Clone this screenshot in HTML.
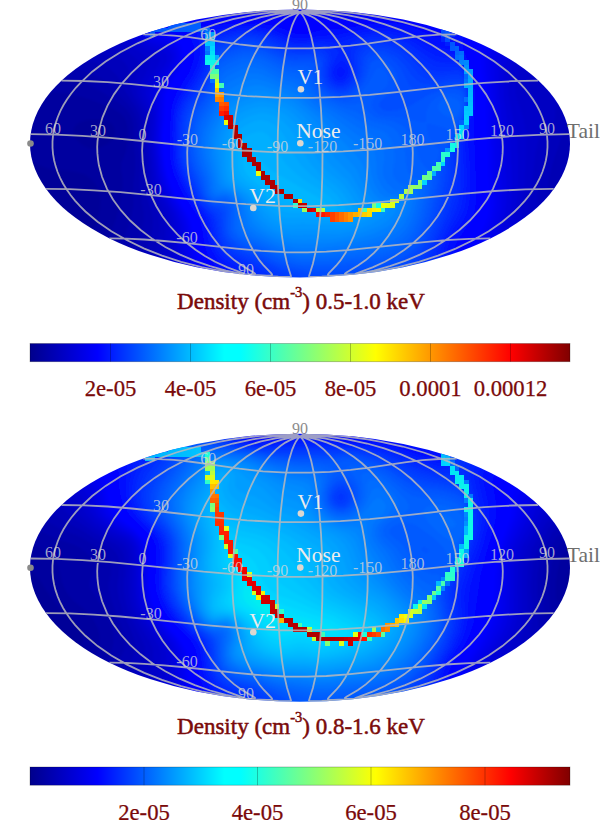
<!DOCTYPE html><html><head><meta charset="utf-8"><style>html,body{margin:0;padding:0;background:#fff}body{width:600px;height:820px;overflow:hidden}svg{display:block}</style></head><body>
<svg width="600" height="820" viewBox="0 0 600 820" font-family="'Liberation Serif', serif">
<defs><filter id="blur" x="-5%" y="-5%" width="110%" height="110%"><feGaussianBlur stdDeviation="1.2"/></filter><linearGradient id="jetg" x1="0" x2="1" y1="0" y2="0"><stop offset="0.0000" stop-color="#00008c"/><stop offset="0.0500" stop-color="#0000ba"/><stop offset="0.1000" stop-color="#0000e8"/><stop offset="0.1250" stop-color="#0000ff"/><stop offset="0.1500" stop-color="#001bff"/><stop offset="0.2000" stop-color="#0051ff"/><stop offset="0.2500" stop-color="#0088ff"/><stop offset="0.3000" stop-color="#00beff"/><stop offset="0.3500" stop-color="#00f4ff"/><stop offset="0.3600" stop-color="#00ffff"/><stop offset="0.3900" stop-color="#00ffff"/><stop offset="0.4000" stop-color="#0afff5"/><stop offset="0.4500" stop-color="#3dffc2"/><stop offset="0.5000" stop-color="#70ff8f"/><stop offset="0.5500" stop-color="#a3ff5c"/><stop offset="0.6000" stop-color="#d6ff29"/><stop offset="0.6400" stop-color="#ffff00"/><stop offset="0.6500" stop-color="#fff500"/><stop offset="0.7000" stop-color="#ffc200"/><stop offset="0.7500" stop-color="#ff8f00"/><stop offset="0.8000" stop-color="#ff5c00"/><stop offset="0.8500" stop-color="#ff2900"/><stop offset="0.8900" stop-color="#ff0000"/><stop offset="0.9000" stop-color="#f30000"/><stop offset="0.9500" stop-color="#b90000"/><stop offset="1.0000" stop-color="#800000"/></linearGradient></defs>
<g transform="translate(0,0)">
<text x="300" y="10" font-size="16" fill="#8c8c8c" text-anchor="middle">90</text>
<clipPath id="clip1"><ellipse cx="300.0" cy="143.4" rx="270.0" ry="134.0"/></clipPath>
<g clip-path="url(#clip1)">
<g filter="url(#blur)">
<rect x="0" y="0" width="600" height="290" fill="#000083"/>
<path fill="#00008a" d="M0 0 0 289.5 599.5 289.5 599.5 0Z"/>
<path fill="#000091" d="M0 0 0 289.5 599.5 289.5 599.5 0Z"/>
<path fill="#000098" d="M0 0 0 289.5 599.5 289.5 599.5 0Z"/>
<path fill="#00009f" d="M0 0 0 165.5 22.5 164 23 163.5 35 163.5 45.5 168 51 169.5 70.5 171 82 173.5 85.5 175 90.5 178.5 95 183.5 99 191 100.5 199.5 100 208.5 97 223.5 93.5 228.5 84 233.5 4.5 266.5 0 267 0 289.5 599.5 289.5 599.5 0ZM73.5 130 75 126.5 78 123.5 81.5 121.5 89 119.5 101 119.5 105.5 120.5 110.5 123 114 127 115 132.5 113 138.5 107.5 144 98.5 148 90.5 148.5 83 145.5 76 139 73.5 133.5Z"/>
<path fill="#0000a6" d="M0 0 0 83 8 83.5 47.5 92 68 93.5 90 99.5 110.5 107.5 119 112.5 124 117.5 126 121.5 127.5 128 127.5 140 126.5 148 125 154 121 163.5 121 169 122.5 179 122.5 188 121.5 197.5 116 218 112 230 110 234 105 238.5 14 283 10 285.5 8 287.5 7.5 289.5 599.5 289.5 599.5 0Z"/>
<path fill="#0000ad" d="M0 0 0 60.5 3 60.5 54.5 75 73 79.5 88.5 85 101 91.5 118 102.5 123 106.5 127 110.5 130.5 115.5 132.5 121 133.5 126.5 134 150 135 156 135 169 133.5 183 133.5 205 131 219 123.5 238 118 244 47 283.5 42.5 287.5 42 289.5 599.5 289.5 599.5 0Z"/>
<path fill="#0000b4" d="M0 0 0 43.5 8 45 84 70.5 99 77 107 82.5 126 101.5 133 110.5 137 120 138 127 138.5 146 140.5 159.5 140 186 141.5 199.5 144 213.5 144 220.5 141.5 230.5 135.5 244 130.5 249.5 76.5 283.5 73.5 286 72 289.5 599.5 289.5 599.5 0Z"/>
<path fill="#0000bb" d="M0 0 0 27 2.5 27 10.5 29.5 83.5 58.5 104 65.5 110 68.5 117.5 76 125.5 92 136 107.5 139 113.5 141.5 124.5 142 145 144.5 165.5 144.5 183.5 146.5 195.5 153 217.5 152.5 230.5 147.5 247.5 145.5 251 137.5 258 102.5 282.5 98.5 286.5 97.5 289.5 599.5 289.5 599.5 204.5 593 204 554.5 196 550.5 194.5 548.5 192.5 547.5 189.5 549 178 553 162.5 560.5 139.5 565 130.5 570 127.5 599.5 126 599.5 0Z"/>
<path fill="#0000c2" d="M0 0 0 8.5 4.5 9 99 52 118 58 122.5 60.5 126 64 127.5 67 128.5 70.5 129 81 130.5 88.5 133 95 141.5 110.5 144 118.5 145 144.5 147.5 164.5 148 181.5 150.5 194 159.5 217.5 160 230.5 156.5 249 154 254.5 144.5 263 119.5 282 115.5 286 114.5 289.5 599.5 289.5 599.5 221 592.5 220 546.5 208 540 205.5 538 203.5 537 201 537.5 193.5 543.5 162 547.5 146.5 553.5 127.5 555 116.5 555 110 556.5 105 559 102.5 565 101 594 96.5 599.5 96.5 599.5 0Z"/>
<path fill="#0000c9" d="M27.5 0 28.5 2.5 30 4 42 11 112.5 47 130 53.5 136.5 59 138.5 62.5 139 68 136 80.5 136 88.5 138 96 144.5 109 146.5 115 147.5 122 147.5 142.5 150 163 151 180.5 155 196 164 215.5 165.5 222 165.5 233.5 163 252 160.5 257.5 155.5 262.5 131 282.5 127.5 286.5 127 289.5 599.5 289.5 599.5 233.5 591 232 534 214.5 532 213.5 528.5 209.5 528.5 202.5 531.5 187.5 535.5 152 541.5 125 541.5 115.5 538.5 105 536 100 531 93 528 85.5 528.5 78 531 75 535 73 587.5 57 599.5 54.5 599.5 0Z"/>
<path fill="#0000cf" d="M50.5 0 51 2 54 5 61 9.5 118 41.5 132 47.5 141 52.5 148.5 59 149.5 61.5 149.5 64.5 148.5 67.5 142 81 141 85.5 141 91 142.5 97 147.5 108 149.5 115 150 144.5 154 181.5 158 195 168.5 216.5 170 223.5 170 239 169 245.5 169 251.5 167 258.5 160.5 265.5 138.5 285 137 287.5 137 289.5 599.5 289.5 599.5 244 594.5 243.5 529.5 221.5 523.5 218.5 521 215 521 209 523.5 195.5 525 180 525 172.5 525.5 172 526 131.5 523 116 517 99.5 515.5 93 515.5 83.5 517 74 519.5 69 522 67 526 65 583.5 45.5 585 44.5 596 41 599.5 41 599.5 0Z"/>
<path fill="#0000d6" d="M66 0 67.5 3.5 73.5 8 127 40 154.5 53 158.5 56 160 59 160 61 157.5 66.5 149 78.5 147 82.5 145.5 87.5 145.5 93 151 109 152.5 116.5 152 141 156 179 158 187 161 195 168.5 208.5 172.5 218 174 225.5 174 232.5 174.5 233 174 249.5 173.5 250 173.5 256.5 171 262 147 285 145.5 287.5 145.5 289.5 599.5 289.5 599.5 253.5 596.5 253.5 590 251.5 525.5 227.5 517 223.5 514.5 220 514.5 213.5 516.5 203.5 517.5 194 517.5 186 518 185.5 518 154 517.5 153.5 517.5 144.5 516.5 136 508.5 95.5 508.5 82 510 70.5 511.5 66 514 63 523 58.5 589 33.5 597 31 599.5 31 599.5 0Z"/>
<path fill="#0000dd" d="M78 0 78 1.5 79 3 83 6.5 131 37 145.5 44.5 162 50.5 167 55.5 167 60.5 165 65 155.5 77.5 151 85.5 150 88.5 150 96 154 109.5 155 116.5 154.5 136 154 136.5 154.5 148.5 158 177.5 162 191 174 213.5 177 223 178 230 178 259 176.5 262.5 174.5 265 156 283 153 287.5 153 289.5 599.5 289.5 599.5 262.5 596 262.5 517 231 510.5 227.5 508.5 224.5 508.5 218 510.5 209 511.5 200 511.5 191.5 512 191 511.5 163.5 511 163 511 151 510.5 150.5 510 140 507.5 126.5 506 111.5 503.5 96 504 70 505 64 506.5 61 509 58.5 514.5 55.5 592 24 597 22.5 599.5 22.5 599.5 0Z"/>
<path fill="#0000e4" d="M88 0 88.5 2.5 94 7.5 138 36.5 150 42.5 166 48 170.5 52 172 56 171.5 60.5 168.5 67 157.5 82 154 90.5 154 98 157 112 156 141.5 159 171 162 184.5 168.5 199 177 214 180.5 225 181.5 232.5 181.5 245.5 182 246 182.5 259.5 180.5 264.5 164 281.5 160.5 286 159.5 289.5 599.5 289.5 599.5 272 591.5 270 513 236 506 232.5 503 229.5 502.5 223 505 213.5 506.5 201.5 506.5 181 505.5 171 504.5 141.5 502.5 128.5 499 92.5 499.5 62 501 58 504.5 54.5 591 16.5 597 14.5 599.5 14.5 599.5 0Z"/>
<path fill="#0000eb" d="M96.5 0 97.5 3 102.5 7.5 135 30 149 38.5 165 44 169 46 173 49.5 175 53.5 175.5 57.5 174 63.5 171.5 68.5 161.5 82.5 158.5 88.5 157.5 92.5 157.5 101.5 159 109.5 158 145.5 160.5 168 163 180.5 166 189 171 199 179 212.5 183.5 225 184.5 231 185 246.5 186.5 261.5 183 268 168 284 166 287.5 166 289.5 599.5 289.5 599.5 281 596.5 281 590 278.5 506 239.5 499.5 236 497.5 234 496.5 232 496.5 227.5 499 220 501.5 207.5 502 188 500.5 173.5 500 147.5 499.5 147 499.5 140.5 498 129 497 108.5 496.5 108 495 82 494.5 81.5 494.5 59 496 55 499.5 51.5 594.5 7.5 599.5 6.5 599.5 0Z"/>
<path fill="#0000f2" d="M104.5 0 105 2.5 109.5 7 147.5 34 153 37 166.5 41.5 171.5 44 176.5 49 178 52.5 178.5 58 177 64 174 70 165 83 162 89 160.5 94.5 161 121.5 160 128.5 160 149 163 172.5 166.5 185 172.5 197.5 181 211.5 185.5 222 187.5 232 188.5 249 190 256 190.5 262.5 189 266.5 186.5 270 173.5 284.5 172 287.5 172 289.5 586.5 289.5 586.5 288 581 283.5 495.5 241 490.5 236 490.5 231.5 495 219 497.5 206 497.5 186.5 496 175 495.5 146 495 145.5 495 138 493.5 123 493 103 490.5 79.5 489.5 59.5 490 55 491 52.5 493 50 496.5 47.5 583 5.5 586.5 3 588 0 355.5 0 355.5 3 354.5 6 351.5 9.5 348.5 11 341 11 335.5 9 332.5 5.5 332.5 0 267 0 267 5 264 8.5 260 10.5 253 12 247 11.5 242.5 9 240 5 239 0Z"/>
<path fill="#0000f9" d="M111.5 0 112.5 3 116.5 7 148 30.5 158 36 166 38.5 173.5 42 178.5 47 181 53 181 60 179.5 65 175 73.5 167.5 84.5 163.5 94 163 118.5 161.5 131.5 162 153 164 168.5 166 177.5 171.5 191.5 182 209 187.5 220 189.5 227 191.5 248 194 259 194 265.5 192.5 268.5 179.5 284 178 286.5 177.5 289.5 567.5 289.5 567 287.5 564.5 285 558 281 487.5 243.5 484 239.5 484 235.5 491.5 217 493.5 206.5 493.5 187 491.5 170.5 491.5 146 491 145.5 491 137 490 128 489.5 101 485.5 68 485 55 485.5 52 487 49 492.5 44.5 565.5 7.5 570.5 4.5 573 2 573.5 0 365 0 364.5 4.5 362.5 8.5 360 11.5 356 14 346.5 16 329.5 14.5 319.5 12 314 8.5 312.5 5 312.5 0 287.5 0 287.5 4.5 286.5 7.5 284.5 9.5 281.5 11 273 13 257 15 245.5 15 241 14 235 11.5 232 8.5 230 4.5 229.5 0Z"/>
<path fill="#0000ff" d="M118.5 0 118.5 2 123 7 153 30 161.5 34.5 167 36 175.5 40 181 45.5 183.5 51.5 184 57 182 65.5 178 73.5 170 85.5 167.5 90.5 165.5 97 164.5 120.5 163 135 163.5 152 165 164.5 167.5 176.5 171 186 175.5 195 187.5 214.5 191 222.5 193 232 195 251 198 261.5 198 266.5 196 270.5 185 284 183 289.5 549.5 289.5 549 287 545 283.5 480.5 246.5 477.5 243 477.5 238.5 485 224 488 215.5 490 203.5 490 191 488 174.5 488 154.5 487.5 154 487.5 140 486.5 130.5 486 98.5 481.5 68.5 480.5 52 482 47 488 42 552 8 557.5 4.5 560 2 560.5 0 373.5 0 371.5 7 366.5 13 362 15.5 350 18.5 334.5 18.5 334 18 318.5 17 310 15.5 302 12.5 297.5 12.5 292 14.5 281.5 16 270.5 16 261 17 239 16.5 227 14 222.5 11.5 218 5.5 217 3 217 0Z"/>
<path fill="#0000ff" d="M125 0 126 3.5 129 6.5 155.5 27.5 163.5 32 170 34 179.5 39.5 184 45 186 50 186.5 58 184.5 66 180.5 74 172 87 167.5 98.5 166.5 106 165.5 127.5 165 128 165 151 167 167 170.5 180 177 194 191 216.5 194 224 197.5 249 202 263 201.5 269 199.5 272.5 190.5 284 189 287 189 289.5 534 289.5 533.5 287 529 283 475 250 471 246 470.5 244 472.5 238 478 229.5 482.5 220.5 485 212.5 486.5 202 486.5 192 484.5 174 484.5 153.5 484 153 484 140 483 130 483 102.5 482 92.5 477 64 476 49.5 477 45.5 482 40.5 543.5 6 548 2 548.5 0 382.5 0 382.5 2 380.5 7 375 13.5 370.5 16 362.5 18.5 348 21 316 20.5 315.5 21 305 21 304.5 21.5 282 19 273 19 272.5 18.5 244 19 243.5 18.5 236.5 18.5 236 18 229 18 228.5 17.5 213 16.5 208.5 15.5 204 13 197.5 4.5 196.5 0Z"/>
<path fill="#0000ff" d="M133 0 133.5 2.5 137 6 158 23 164 27 172.5 31 180.5 36.5 184.5 40.5 188.5 48.5 189 58.5 187 66 183.5 73.5 174.5 87.5 170.5 96 169 101.5 167 128.5 166.5 129 166.5 150.5 169 169 173.5 183 180.5 196.5 192 214 195.5 221 197.5 228.5 200 247.5 202 255 206 264.5 205.5 271 196.5 283.5 195 286.5 194.5 289.5 521.5 289.5 520 286 516.5 283 470 253 465.5 249 464.5 246.5 466.5 240 474 229 479.5 218.5 482 210 483 202 483 190.5 482.5 190 481.5 169 481 168.5 481 147.5 480.5 147 480 127 479.5 126.5 479.5 97.5 477 80 472.5 59 471.5 46.5 473 42.5 476.5 39 530 7.5 536.5 2 537 0 395 0 394 4.5 391 9.5 386 14.5 380 17 354 22.5 345 23.5 334.5 23.5 334 24 319.5 24 312.5 25 304.5 27.5 297.5 27.5 283.5 22.5 267 20.5 220 20 219.5 20.5 207 20.5 206.5 21 180 21 176.5 20 173 18 160.5 5.5 158.5 2.5 158 0Z"/>
<path fill="#0004ff" d="M526 0 483.5 0 483 2 480 5 452.5 25 444 32.5 439 32.5 433 30.5 416 22.5 406 19.5 382 20 347.5 25.5 318 27.5 303 31.5 296 31 279.5 24.5 271.5 23 260 22.5 259.5 22 227 22 206.5 24 197 24 187.5 25.5 182 27.5 180.5 29 180.5 31 188.5 41 191 47 191.5 58.5 189 67.5 185 75.5 176.5 88.5 173 95.5 171 101.5 169.5 110.5 168.5 129 168 129.5 168 150.5 169.5 164 173.5 178.5 181 194 194 213.5 197.5 220 199.5 226.5 203 249 205 255 210.5 266 210 272.5 202.5 283.5 201 286.5 200.5 289.5 511 289.5 510 286.5 505 282 465.5 255.5 460.5 251 459.5 249 459.5 245.5 461 241.5 472 225.5 475.5 219 478 212 479.5 203 479.5 186.5 478.5 178.5 478 152.5 477.5 152 477.5 142 476.5 132.5 477 96 475 80.5 468.5 56.5 467 48.5 467 44 469 39.5 473 36 521 6.5 525.5 2.5Z"/>
<path fill="#000aff" d="M515.5 0 488 0 487.5 2.5 483 7 453 29 450.5 31.5 448 35.5 445.5 38 444 38.5 435 36.5 410.5 26.5 400.5 24 392.5 23 374 23.5 342.5 28.5 322 30 305 34 296.5 34 277 26.5 270.5 25 257 23.5 226.5 24 211 26 196.5 26.5 188.5 29 187 31 187 33 191.5 40 193.5 45 194.5 50.5 194 59 190 71 177 92 173 101.5 171 111 170.5 121 170 121.5 169.5 150.5 171 164 174.5 176.5 183.5 195 199 218 202 227.5 203 236.5 205.5 248.5 207.5 254 210 259 214.5 265.5 216 269.5 215.5 273 209.5 282.5 207 289.5 502 289.5 501 286 499 284 459.5 256 456 252.5 455 250.5 455 246 458 239.5 468.5 224.5 473 216 475.5 207.5 476 197 476.5 196.5 475.5 168 475 167.5 475 154 474.5 153.5 474.5 144.5 473.5 135.5 473.5 120.5 475.5 101.5 475 91.5 473.5 80.5 471.5 72.5 462.5 46.5 462.5 41 463.5 38.5 469.5 33 511.5 6 515 2.5Z"/>
<path fill="#0010ff" d="M505.5 0 491.5 0 491.5 2 490 5 487 8 457 30.5 453.5 34 452.5 36.5 452 41 450 43 448.5 43.5 443.5 43.5 436.5 41.5 418 33 407 29 396.5 26.5 386.5 25.5 368.5 26.5 337 32 317.5 33.5 304.5 36.5 294.5 36 280 30 272 27.5 255.5 25 231 25.5 208.5 28.5 199 28.5 194 30 192.5 31.5 192 33.5 196.5 44.5 197 47.5 196.5 59.5 193 70 189 77.5 177.5 95.5 174 104.5 172 115.5 171.5 130 171 130.5 171.5 157 173.5 168.5 177 178.5 187.5 198.5 197.5 212 202 219.5 204.5 229 206 240.5 208.5 249.5 213 258.5 219.5 266.5 222 271.5 221 276 215.5 285.5 215 289.5 494.5 289.5 494 287 491.5 284 458 259.5 452 254 451 252 451 247 455 238 466 222 469.5 215.5 472 207.5 473 200 473 178 472.5 177.5 472.5 164.5 472 164 472 153.5 471.5 153 470.5 130 474 105 473.5 88.5 472.5 81.5 469 69 466 61.5 456.5 44 456 40.5 459 35 461.5 32.5 499.5 7.5 505 2.5Z"/>
<path fill="#0016ff" d="M197 33 197 36.5 198.5 40 200 47.5 200 54 198.5 62 193 75 178 99 175.5 105.5 174 112 173 120.5 173 130.5 172.5 131 173 157.5 174 164 177 174 184.5 190 192 202.5 200.5 213 204 219 206 225.5 208 239 211 249 216.5 258.5 227 269 229 272 229.5 275 225 284.5 224 289.5 487.5 289.5 486.5 286 483.5 283 453 260 448 255 447 252.5 447.5 247.5 449.5 242 455 232 463.5 219.5 466.5 213.5 469 204.5 470 194.5 470 174.5 469.5 174 469.5 161.5 469 161 469 153 468 145 468 133 473 104 472.5 88.5 470.5 77.5 467 67.5 462.5 58.5 456 51 453 49.5 444.5 48.5 435 45.5 417.5 36.5 403 31 394.5 29 385 28 367.5 29 355 31 337.5 35 319 36 306.5 38.5 295.5 38.5 288.5 36.5 273 30 255 26.5 240 26.5 239.5 27 229.5 27.5 211.5 30.5 200 31Z"/>
<path fill="#001dff" d="M202 35 201.5 39 202.5 43 202.5 55.5 200 65.5 194.5 77 181 97.5 177.5 105 175.5 112 174.5 120 174.5 132 174 132.5 174 150.5 174.5 151 175 161.5 177 169.5 179.5 176 188 193 193.5 202 201.5 211.5 206 218.5 208 224.5 211 242 215.5 252.5 217.5 255.5 225 263 234.5 269.5 237.5 272.5 238.5 274.5 238.5 278.5 235.5 285.5 235 289.5 481 289.5 480.5 287 476.5 282.5 449.5 261.5 444.5 256.5 443.5 254 444 248.5 447.5 239.5 453 229.5 459 220.5 463 212.5 465 206.5 466.5 197 467 168.5 466.5 168 466.5 159 466 158.5 465 142 465.5 141.5 465.5 136 471.5 109 472 92.5 470.5 81.5 468 73 463.5 63.5 459 57.5 455.5 55 452.5 54 443.5 53 434.5 50 420.5 42 407 35.5 395.5 32 384.5 30.5 376 30.5 363.5 32 337.5 38.5 319.5 38.5 302 41 290.5 39.5 269 31 254 28 242 28 232.5 29 210.5 33 207 33 203 34ZM340 67 342.5 67.5 344.5 70 344.5 73.5 341.5 76.5 339 76.5 337 74.5 336.5 73 337 70Z"/>
<path fill="#0023ff" d="M206 38 205 47 205 54.5 202 67 196.5 78 183 98 177.5 110.5 176 120.5 176 135.5 175.5 136 175.5 149 176 149.5 176.5 161 180 173 189.5 192.5 195 201.5 204 212 208 218 210 224 211.5 234.5 213.5 242.5 217.5 251 220.5 255 226.5 260.5 233.5 265 241.5 269 245 271.5 247.5 274.5 248 279 245.5 286.5 245.5 289.5 474.5 289.5 473.5 286 468.5 281 446 263 441 258 440 255.5 440.5 250 445 238.5 451 227 455.5 220 460 210.5 462 203.5 463.5 193 464 164.5 463.5 164 462.5 143.5 464 135 469.5 115.5 471.5 98.5 471 98 470.5 86 468 76 463.5 66.5 458.5 60.5 454 58.5 445 58 435.5 55.5 425.5 50 415 43 405 38 394 34.5 383 33 370 33.5 361.5 35 351.5 38 340.5 42.5 332.5 42.5 322 41 302.5 43 294.5 42.5 285.5 40 278 36.5 265.5 32 252.5 29.5 239 30 223 32.5 209.5 35.5ZM340 61.5 343 61.5 344.5 62.5 346.5 65 348 69 348 72.5 346.5 76.5 344 79 341.5 80 337.5 79.5 334.5 76.5 333.5 74 333.5 71 335 66.5Z"/>
<path fill="#0029ff" d="M209 40 207.5 45 206 61.5 203 71 197 81.5 183 102 179 111.5 177.5 121.5 178 161 182 173.5 193 195.5 199.5 205 207 213 210 217.5 212 223.5 215 240 218.5 248 220.5 251 229 259 236 263 245.5 267 250.5 270 254.5 273.5 256 276 256 280.5 254.5 285 254 289.5 468 289.5 468 287.5 466 284.5 443.5 265.5 437.5 259.5 436.5 257.5 436.5 253 441 241 456 211 458.5 202.5 460.5 190 461 162.5 460 155.5 460 146.5 461.5 139 465.5 127.5 469.5 111.5 470.5 104 470.5 93.5 469.5 85 467.5 77.5 464 70 460 65 456 63 442.5 62.5 436 61 430 58 409 43.5 396 38 381 35.5 370.5 36 357 39.5 350.5 43 345 48 343.5 50.5 343.5 52.5 349 62 350.5 67 350.5 72.5 348.5 77.5 345 81 341.5 82.5 339 82.5 335.5 81 333 78.5 331.5 75.5 332 67 338.5 53.5 338.5 51.5 335 48 328.5 45 319.5 43.5 303 44.5 302.5 45 294 44.5 286 42.5 276 38 263.5 33.5 257.5 32 249 31 237.5 32 219.5 35.5 212.5 37.5Z"/>
<path fill="#002fff" d="M210.5 43 208.5 51.5 207.5 63 205.5 71 201 79.5 186.5 100 180.5 112.5 179 124 179 156 180 162.5 185 176 195 196 201 204.5 210.5 214.5 212.5 218 214 222.5 216.5 237.5 221 247.5 230 256.5 253 267.5 259 271.5 262.5 275 263.5 277 263.5 281.5 262 289.5 461.5 289.5 461.5 287.5 459.5 284.5 439 266.5 434 261.5 432.5 258.5 432.5 255.5 441 234.5 451.5 213 454.5 204 456.5 194.5 458.5 174 458 161 457.5 160.5 457.5 149 459.5 141 466.5 121 469 110 470 101 469.5 91 468 82.5 465 74.5 461 69 457.5 67 438.5 67 433.5 65.5 426 61 412 49.5 399.5 42.5 388 39 372 38.5 360.5 41.5 355.5 44.5 353 47 351 51 351 57.5 353 66.5 353 71 351.5 76.5 350 79 346 83 342.5 84.5 338 84.5 334.5 83 331 79.5 329.5 76 329.5 68.5 332 59.5 331.5 52.5 329 49.5 324 47 319.5 46 310.5 46 303 47 293 46.5 284 44 276.5 40.5 261.5 35 252 33 240.5 33.5 225 36.5 214.5 39.5Z"/>
<path fill="#0035ff" d="M214.5 42.5 212.5 44.5 210.5 49.5 208.5 67 207 73 202.5 81.5 186.5 104 182 114 181 120 181 131 180.5 131.5 180.5 153.5 181.5 161.5 183.5 168 197 196.5 201.5 203 213 214.5 214.5 217 216 221.5 218.5 237 223.5 247 229.5 253 235 256.5 248.5 262 266 272 270 276 271 278 270.5 289.5 454.5 289.5 454.5 287.5 453 285 431 264.5 428.5 260.5 428.5 257 447.5 214 450.5 205 453.5 191.5 455.5 174 455 160 454.5 159.5 455 151.5 459 138.5 466 120 469 105 469 93.5 467.5 84 466 79.5 462 73 459 71 456.5 70.5 441.5 72 432 70.5 426 67 410.5 53 401.5 47 393.5 43.5 388 42 381.5 41 374.5 41 364 43.5 361 45 357.5 48 355.5 51.5 354.5 55.5 355 72 353 78 351 81 346.5 85 342.5 86.5 338 86.5 332.5 84 328.5 79 327.5 76 327.5 68.5 329 62 329 57 327.5 53.5 324.5 50.5 319 48.5 296.5 49 290 48 283 46 268.5 39.5 259.5 36.5 252 35 244 35 237.5 36 222.5 39.5Z"/>
<path fill="#003bff" d="M215.5 45 213 48 211.5 52.5 209.5 70 208 76 203 85 189 104 185 111.5 183.5 116 182.5 124.5 182.5 156.5 184 164 186 169.5 199 197 202.5 202 215.5 214 218 220 219 230 220.5 236.5 223.5 243 226.5 247 234 253 256.5 263 275.5 274 279.5 278.5 280 280.5 279.5 289.5 447 289.5 446.5 287 444 283.5 425.5 265.5 424 263 423.5 260.5 424.5 257 432.5 242 443 217 449.5 194 452 178.5 452.5 153.5 458 138 462.5 128 466 117 468 107 468.5 97 467.5 88.5 465.5 81.5 463.5 78 459 74.5 451 74.5 443 76 433.5 76 430 75 423 71 407 55 399 49.5 387.5 45 382 44 374 44 369 45 363.5 47.5 359 52.5 357.5 57.5 357 73 353 81.5 348.5 86 346 87.5 343 88.5 338 88.5 332 86 327 80.5 325.5 75.5 326.5 59.5 324.5 54.5 320 51.5 316 50.5 294.5 51 288.5 50 279.5 47 265 40.5 257 38 251 37 245.5 37 236 38.5 222.5 42Z"/>
<path fill="#0041ff" d="M216.5 47.5 214 50.5 212.5 55 210.5 73 209 79 204.5 87 189.5 107.5 186 115 184.5 123.5 184 152 185 160.5 187 167 199.5 195 203 200.5 208.5 206 215.5 210.5 219.5 216 221.5 232.5 223 237 227 244 234.5 250.5 241.5 254 251 257.5 287 276 291 280.5 291.5 289.5 437.5 289.5 437 286.5 434 282.5 419.5 267.5 418 265 418 261.5 419 259 426.5 248 430 241 439 219 444.5 200 448.5 180 449.5 157.5 453 147 462.5 125.5 467 108.5 467.5 105 467 91 465.5 85 463 80.5 459 78 452 78 441 80 430 80 426.5 79 419 74.5 410 64 402 56 397 52.5 388 48.5 380.5 47 375 47 370 48 366 50 362.5 53.5 360.5 58 359 74 357 79 354 83.5 350.5 87 345.5 90 338 90.5 331.5 88 326 82.5 323.5 75.5 324 60 323 57.5 319 54 315.5 53 297.5 53.5 289 52.5 281 50 262.5 42 252.5 39.5 243.5 39.5 237.5 40.5 224.5 44Z"/>
<path fill="#0047ff" d="M217.5 50 215 53 213.5 57 211.5 75.5 209.5 83 205 90.5 192 108 189 113.5 187.5 118 186 132.5 186 153 187 160 189 166.5 202 196.5 204 199.5 209 204.5 218.5 209.5 220.5 211.5 222 214.5 223.5 232 225 236.5 228 241.5 233 246.5 239.5 250.5 253.5 256 279.5 269 302.5 277 306.5 281 307.5 285.5 307.5 289.5 425 289.5 425 287.5 423.5 284.5 411 270 410 268 410 264.5 412.5 260.5 420 252.5 425.5 244 434 224 438 212 444.5 183 445.5 176 446 163 447 158.5 450.5 149 461.5 125.5 466 110 466.5 94.5 465.5 89.5 463 84 458 81.5 447.5 82 433.5 84.5 428.5 84.5 421.5 83 417 80.5 411.5 75 404 64 396.5 57 385.5 51.5 380.5 50.5 375 50.5 369.5 52 365 56 363 61 362 71.5 360.5 76.5 358 81.5 354.5 86 347.5 91.5 344.5 92.5 337.5 92.5 329.5 89 326 86 323.5 82.5 321.5 76 321.5 66.5 322 66 321.5 61.5 320 58.5 317.5 56.5 314.5 55.5 289 55 282 53 262.5 44.5 253 42 243 42 237.5 43 224 47Z"/>
<path fill="#004eff" d="M219 52.5 215.5 56.5 214.5 59.5 213 69 212.5 78.5 210.5 86 207 92 194 109.5 190 118 188 133.5 188 152.5 189 159.5 191 166 197 179 200.5 189.5 204 197 209.5 203 214 205.5 221 207.5 224.5 212 225 228.5 226.5 234.5 230 240.5 238 247 258 255.5 270 262 283 267.5 295 271 323.5 276.5 332 277.5 342 280 345.5 283 347 289.5 403 289.5 402.5 286 395.5 276 394 273 394 271.5 395 269.5 399.5 265 409.5 258 418 250 423.5 241.5 430.5 225 434 214.5 440.5 185.5 443.5 162 447.5 151.5 461 124 465 110.5 466 100.5 465 93 463 88 459.5 85.5 451.5 85 428 89.5 420.5 90 415 89 412 87.5 409 84.5 401.5 69.5 395 61.5 391 58.5 386 56 380.5 54.5 375 54.5 370 56.5 367 60 363.5 76 357.5 86 352 91.5 349 93.5 344 95 337 94.5 329.5 91.5 325.5 88.5 322.5 85 319.5 77.5 319 63.5 318 61.5 314 58.5 311.5 58 295.5 58.5 288 57.5 280 55 263.5 47.5 251.5 44.5 245 44.5 236.5 46 225.5 49.5Z"/>
<path fill="#0054ff" d="M220 55.5 217 58.5 215.5 62.5 214 72 213.5 81 211.5 89 209 93.5 196.5 110.5 192 120.5 190 136 190 151 191.5 160.5 194.5 169 199.5 180 205 196 208 200 210.5 202 215 204 223 205 226 207.5 227.5 211.5 227 227 228.5 233.5 231 238 238.5 244.5 255 251.5 276 262 290 267 298.5 269 310 270.5 334 271 334.5 270.5 342 270.5 356.5 269 363.5 269 378.5 267 394.5 262 403.5 257.5 410 253 417 246 420 241.5 424.5 232 430 217 437 185 439.5 165.5 445 151.5 460 123 462.5 116 464.5 107 464.5 98 462.5 92 460.5 90 457.5 89 446.5 89 440 90.5 427 95.5 412 104.5 403.5 108.5 395.5 110.5 387 111 382.5 109.5 380 107 379.5 105.5 380 102.5 384.5 97.5 392.5 92.5 395.5 89.5 397.5 85.5 398 80.5 396.5 74 393 67.5 389 63.5 382 60 376 59.5 371.5 62 370 64.5 368 72.5 365 80 360.5 86.5 354 93.5 347.5 97 341 97.5 334.5 96 328 93 321.5 87.5 317.5 79.5 315.5 65 314 63 312 62 306.5 61 297.5 61.5 288 60.5 279 57.5 264 50.5 252.5 47.5 244 47.5 238.5 48.5 227.5 52Z"/>
<path fill="#005aff" d="M220 59.5 218.5 61 216 67.5 214.5 84.5 213 91 209 98 199.5 111 194.5 121.5 192.5 132.5 192.5 140.5 192 141 192.5 153.5 195.5 165.5 201.5 179.5 204.5 191 207.5 197 211 200.5 214 202 224.5 202.5 228.5 206 230 210 229.5 228.5 231 233.5 232.5 236 237 240.5 246 245.5 254 248.5 281.5 261.5 294 265.5 308.5 267.5 337.5 267 348.5 265.5 365 264.5 380.5 262 392.5 258.5 402 254 408 250 414.5 243.5 420 234.5 427 216 433 187 435 168.5 439 154.5 439 149.5 433 143 429.5 136.5 427 128.5 427 125 428.5 124 443.5 128 449 130.5 452.5 129.5 457.5 123.5 462 112.5 463 107 463 100.5 461.5 96.5 459.5 94.5 455.5 93 449.5 92.5 442 94 435.5 97.5 430.5 102 428.5 105 426 111.5 425.5 120.5 424.5 122 422.5 122 406.5 118 397.5 116.5 384.5 115.5 380.5 114.5 377.5 113 374 109.5 372.5 106 373 101 374 99 386.5 87 388 84 389 79.5 388.5 76 387 72.5 385 70 380 67.5 377 68 374.5 70.5 368 83 361.5 91 355 97.5 349.5 100 343 100.5 331 97 322.5 92 319.5 89 316 83 312 68.5 308 65.5 300.5 64.5 292 64.5 286.5 63.5 279.5 61 264 53.5 250.5 50.5 242.5 51 236 52.5 226.5 56Z"/>
<path fill="#0060ff" d="M442 100 439.5 103 438.5 105.5 438.5 108.5 439.5 111 443 114.5 446 116 451 117.5 456 117 457.5 115.5 460 109.5 460 103.5 459 101.5 457 99.5 451.5 97.5 446 98ZM219 65.5 217 71.5 215.5 88 213.5 95.5 200.5 115 196.5 124.5 194.5 137.5 194.5 149.5 197 162.5 203 177.5 206 190 208 195 211.5 199 214.5 200.5 225.5 200.5 227.5 201.5 231.5 206.5 232.5 210 232 228.5 234 233.5 238 238 246.5 243 256.5 247 279.5 258 292.5 262.5 304 264.5 332.5 264 352 261.5 362 261 378.5 258.5 392 254.5 399.5 251 405 247.5 411 242 417.5 232 423.5 216.5 429 189.5 430 177.5 427.5 169.5 421.5 162.5 419 157.5 414.5 143 410.5 134.5 404 127 399.5 124 394 121.5 378.5 118.5 373 116 366.5 110 363 105 360 103.5 352 104.5 344 104 337 102 324.5 96.5 321.5 94.5 316.5 89.5 313 83.5 309 73.5 306 70.5 303.5 69.5 285.5 67 279 64.5 264.5 57 258 55 251 54 243 54.5 232.5 57.5 222 62.5Z"/>
<path fill="#0066ff" d="M221.5 68 219 72 218 76 216.5 92 214.5 99 204.5 114 201 120.5 199 126 197 137.5 197 150 199 160.5 206 180 209 193.5 211 196.5 215.5 199 225.5 198.5 228 199.5 231.5 202.5 234 207 235 211 235 220 234.5 220.5 235 229 237.5 233.5 240 236 251.5 242.5 257 244.5 279 255 290 259 301.5 261.5 329 261 364 257 378.5 254.5 390 251 398.5 247 403 244 408.5 239 414 231 420 216.5 424 198.5 425.5 188.5 425.5 183.5 424.5 181 423 179.5 413.5 178 408.5 173 406.5 167.5 405 152 402.5 141.5 398 133 393.5 128.5 388.5 125.5 372.5 121.5 367.5 119 357 112 342.5 107.5 322.5 98.5 316 93.5 311.5 87.5 306.5 78.5 302.5 75 296.5 73 290.5 72.5 283 70.5 265 61 259 59 253 58 243.5 58.5 239 59.5 230 63Z"/>
<path fill="#006cff" d="M221.5 74.5 219.5 79.5 218 93.5 216 101.5 206.5 116.5 203 123.5 201 129.5 199.5 139 200 153 203.5 166.5 208 179 209.5 189 211.5 194 215 197 224 196.5 228 197.5 233.5 202 236.5 207.5 237.5 212 238 227.5 240 231.5 242.5 234 249.5 238.5 277.5 251.5 291.5 256.5 300.5 258.5 325.5 258 362 253.5 376 251 389 247 397 243 402 239.5 407 234.5 410.5 229.5 414.5 221.5 417 214.5 420.5 198.5 421 187 420 185.5 417.5 184.5 409.5 185.5 402.5 185 399 183 394 177 393 174.5 393 168.5 394.5 161.5 394 149 392 141.5 390 137.5 385.5 132.5 382 130.5 368.5 126 352 116.5 319 100 310.5 92 304.5 83.5 301 80.5 295.5 78 282.5 75 261.5 64 254.5 62.5 247 62.5 240 64 227 70Z"/>
<path fill="#0072ff" d="M222.5 80.5 220.5 86 218 103 215.5 108.5 209.5 117.5 204 130 202.5 137.5 202.5 151 204 159 209.5 176 211.5 185.5 211.5 188.5 213 192.5 216 195 225.5 195 228.5 196 232 198 235.5 201.5 239.5 210 240.5 222.5 241.5 226.5 243.5 230 246 232.5 252 236.5 281 250 298 255 314 255.5 339.5 253 366 249 377 246.5 383.5 244.5 393.5 240 400 235.5 404 231.5 408 226 411.5 219 414 212 417 197.5 417 191.5 414.5 189 409.5 189 403 190.5 396.5 190.5 393 189 387.5 183.5 384 177.5 383 174 383 167 384.5 159 383.5 148.5 382 144.5 378 139 371.5 134.5 356.5 126.5 334.5 112 315.5 101.5 309 95.5 301.5 87 298 84.5 292 82 281 79 263 69.5 254.5 67.5 249 67.5 242 69 228.5 75.5Z"/>
<path fill="#0078ff" d="M224 86.5 222 91 220.5 101.5 218.5 108.5 212.5 118.5 208.5 126.5 206.5 132.5 205 142 206 155 212 176.5 213.5 186.5 215 191 218 193 223 193 228 194 232 196 237 200.5 241.5 208.5 244.5 224 248 229.5 256.5 235.5 271.5 243 285.5 248.5 301 252 314 252 346 248.5 374 243 383 240 390.5 236.5 396.5 232.5 402.5 226.5 405.5 222 410.5 210.5 413 198 412.5 194.5 411 193 409 192.5 396.5 194.5 392 194.5 388 193 383.5 188.5 380.5 184 377.5 177 376.5 172 376 158.5 374 151 371.5 146.5 365 140 352.5 131.5 331 115 314.5 105 303.5 94.5 296.5 89 288.5 85.5 280 83 264.5 75.5 257.5 73.5 248.5 73.5 244.5 74.5 230.5 81.5 226.5 84Z"/>
<path fill="#007eff" d="M225 93 223 98 222 105 220 112 212.5 125.5 209 136 208 146 210 160 217 188.5 219.5 190.5 225.5 191.5 232.5 194.5 239 200 244 208.5 248.5 223.5 250.5 226.5 255.5 231 261 234.5 274 241 286.5 245.5 295 247.5 304 248.5 317.5 248 345 245 370.5 239.5 382 235.5 390.5 231 394.5 228 401 221 404 216 407 208 408.5 200.5 407.5 197 405 196 402.5 196 394.5 197.5 386.5 197.5 382.5 195.5 378.5 191 374 183 371.5 175 370 165 368 158.5 365.5 153.5 362.5 149.5 356 143 345 134 332 122 324.5 116 312.5 108 298.5 95.5 288.5 90 280.5 87.5 268 82 259 79.5 251 79.5 244 81.5 228.5 90Z"/>
<path fill="#0085ff" d="M226.5 98.5 224 104.5 223.5 109 221.5 116 214.5 129.5 211.5 141 212 154.5 218 183 220.5 187.5 231.5 192 237.5 196 241.5 200 246.5 208 251.5 221 253.5 224 259.5 229.5 268.5 235 276 238.5 284.5 241.5 293.5 243.5 317 244 317.5 243.5 331 243 353.5 239.5 373 234 389 226 397.5 217.5 401.5 210.5 403 206 403 201 400.5 199.5 382.5 200.5 379 199 375 195 371.5 189.5 368 182 363.5 167 360.5 161 356 155 324 122 296.5 99 283.5 92.5 262 85.5 252.5 85.5 247 87 229.5 96Z"/>
<path fill="#008bff" d="M228 103.5 226 107.5 223.5 119 217.5 131.5 215 141.5 215 152 219.5 178.5 221 183 224 186.5 236.5 193 245 201 247.5 204.5 255 219.5 261.5 226.5 266.5 230 280 236.5 294 239.5 307 240 307.5 239.5 320 239.5 320.5 239 330.5 239 340.5 238 360 233.5 375 228 381 225 387.5 220.5 393 215 395 212 397 207.5 397 204.5 395 203 387.5 203 387 203.5 377.5 203 374.5 201.5 371 198 366.5 191 356.5 169.5 354 166 339 149.5 323 129 309 115 295 103 289 99.5 272.5 93 264.5 91 254.5 91 246.5 93.5 230.5 101.5Z"/>
<path fill="#0091ff" d="M229 109.5 227.5 113 224.5 125.5 221.5 131.5 219.5 137.5 218.5 143 218.5 153 221 172.5 222.5 179 224.5 183 227 185.5 239 192.5 248 201 259 218.5 264 223.5 269.5 227.5 275 230.5 283 233.5 292.5 235 339 234 354.5 230.5 370.5 224.5 381 218.5 388 211.5 388.5 210.5 388 207.5 374.5 206 370 204 367 201 351 174.5 335 158 321.5 137.5 310.5 123.5 301 113.5 293 107 286 103 273 98 267 96.5 259 96 253 97 245 100 232.5 106Z"/>
<path fill="#0097ff" d="M231 114 229.5 117.5 228 125.5 224 136 222 147 223.5 169 225.5 178.5 227.5 182 230.5 185 244.5 194 250.5 200 263.5 217.5 269.5 222.5 281 228.5 289 230 338 229.5 344 228.5 356 225 368.5 219.5 375.5 214.5 376.5 212.5 376 211.5 373.5 210 368.5 208.5 363 204 353 188 347.5 180.5 330 164.5 324.5 157 313 137 307.5 129 301.5 121.5 291.5 112 286 108.5 274.5 103.5 265.5 101.5 258.5 101.5 246.5 105 235 110.5Z"/>
<path fill="#009dff" d="M233.5 118.5 232 121.5 226 146.5 226.5 167 228 176 230.5 181 233.5 184 244.5 191 251 196.5 261 208.5 271 218 279 222.5 287 224.5 294 224.5 301.5 223.5 319.5 224 320 224.5 337.5 224.5 345.5 223 353 220.5 360 217 362.5 214.5 362.5 212 357.5 205.5 346.5 188.5 340 181.5 329.5 173.5 322 166 316.5 158.5 305 137.5 299.5 129 293.5 121.5 286 115 279 111 272.5 108.5 265 107 259.5 107 252.5 108.5 246 111 237 115.5Z"/>
<path fill="#00a3ff" d="M236 124 234 129 230 148 230 167.5 231.5 175.5 234 180 237.5 183.5 252 193.5 269 210.5 277.5 216 286.5 218.5 311 218 323 219.5 336.5 219.5 348.5 216.5 352.5 213.5 353 209 350.5 204 342.5 192.5 334.5 184.5 321 174.5 311 164 303 151.5 294 134 289 127 283 121 278 117.5 271.5 114.5 265 113 259.5 113 249 116 238.5 121.5Z"/>
<path fill="#00a9ff" d="M239 130.5 237 135.5 234 150.5 233.5 162.5 234 163 234 169 235.5 175 237.5 178.5 241 182 254 191 268.5 204 278 210 288.5 212.5 304.5 212.5 317.5 215 331.5 216 338.5 215 342.5 213.5 345 211.5 345.5 210.5 345 206.5 337.5 195.5 330 188.5 311.5 175.5 301 165 293 153 285 136.5 279.5 129 275 125 267.5 121 260 120 255 121 250 123 242 127.5Z"/>
<path fill="#00afff" d="M243.5 138.5 241.5 142 239 150 238 156.5 238 166 239 171 241 175.5 246 181 258 189.5 268.5 198 274 201.5 282 205 299 207.5 312.5 211 321.5 212.5 331.5 212.5 335 211.5 337 210 337.5 207 336 204 329.5 196.5 319 189 304.5 180 296 173.5 286 164 279 154 272 139.5 267.5 134.5 263 132 258 131.5 251.5 133.5 246.5 136Z"/>
<path fill="#00b6ff" d="M245 154 243.5 157.5 243 164 244 169.5 246.5 174.5 254.5 182 268 191.5 280.5 198 309 207 316 208.5 325 208.5 327 207 326.5 204.5 322.5 200.5 316 196 271 170 254 154 251 152.5 247 152.5Z"/>
<path fill="#00bcff" d="M252 167 253 171.5 257.5 176.5 264.5 181 268 181.5 267 179 257.5 169 253.5 166.5Z"/>
</g>
<g shape-rendering="crispEdges">
<rect x="145.38" y="32.38" width="4.67" height="4.67" fill="#001cff"/>
<rect x="150" y="27.76" width="4.67" height="4.67" fill="#0058ff"/>
<rect x="150" y="32.38" width="4.67" height="4.67" fill="#0058ff"/>
<rect x="154.62" y="27.76" width="4.67" height="4.67" fill="#0059ff"/>
<rect x="159.23" y="27.76" width="4.67" height="4.67" fill="#0059ff"/>
<rect x="163.85" y="27.76" width="4.67" height="4.67" fill="#005aff"/>
<rect x="168.46" y="23.15" width="4.67" height="4.67" fill="#005aff"/>
<rect x="168.46" y="27.76" width="4.67" height="4.67" fill="#005aff"/>
<rect x="173.08" y="23.15" width="4.67" height="4.67" fill="#005bff"/>
<rect x="173.08" y="27.76" width="4.67" height="4.67" fill="#005bff"/>
<rect x="177.69" y="23.15" width="4.67" height="4.67" fill="#005bff"/>
<rect x="177.69" y="27.76" width="4.67" height="4.67" fill="#005bff"/>
<rect x="182.31" y="23.15" width="4.67" height="4.67" fill="#005cff"/>
<rect x="182.31" y="27.76" width="4.67" height="4.67" fill="#005cff"/>
<rect x="186.92" y="23.15" width="4.67" height="4.67" fill="#005dff"/>
<rect x="186.92" y="27.76" width="4.67" height="4.67" fill="#005dff"/>
<rect x="191.54" y="23.15" width="4.67" height="4.67" fill="#005eff"/>
<rect x="191.54" y="27.76" width="4.67" height="4.67" fill="#005eff"/>
<rect x="196.15" y="23.15" width="4.67" height="4.67" fill="#005eff"/>
<rect x="196.15" y="27.76" width="4.67" height="4.67" fill="#005fff"/>
<rect x="200.77" y="27.76" width="4.67" height="4.67" fill="#0060ff"/>
<rect x="200.77" y="32.38" width="4.67" height="4.67" fill="#0035ff"/>
<rect x="205.38" y="27.76" width="4.67" height="4.67" fill="#006dff"/>
<rect x="205.38" y="32.38" width="4.67" height="4.67" fill="#008fff"/>
<rect x="205.38" y="36.99" width="4.67" height="4.67" fill="#00b2ff"/>
<rect x="205.38" y="41.61" width="4.67" height="4.67" fill="#00c6ff"/>
<rect x="205.38" y="46.22" width="4.67" height="4.67" fill="#007fff"/>
<rect x="205.38" y="50.84" width="4.67" height="4.67" fill="#006fff"/>
<rect x="205.38" y="55.45" width="4.67" height="4.67" fill="#05ebf2"/>
<rect x="205.38" y="60.07" width="4.67" height="4.67" fill="#0df6ea"/>
<rect x="210" y="32.38" width="4.67" height="4.67" fill="#00a2ff"/>
<rect x="210" y="36.99" width="4.67" height="4.67" fill="#00b7ff"/>
<rect x="210" y="41.61" width="4.67" height="4.67" fill="#00c9ff"/>
<rect x="210" y="46.22" width="4.67" height="4.67" fill="#00d7ff"/>
<rect x="210" y="50.84" width="4.67" height="4.67" fill="#00e2f9"/>
<rect x="210" y="55.45" width="4.67" height="4.67" fill="#06edf1"/>
<rect x="210" y="60.07" width="4.67" height="4.67" fill="#0ef7e9"/>
<rect x="210" y="64.68" width="4.67" height="4.67" fill="#27ffd0"/>
<rect x="210" y="69.3" width="4.67" height="4.67" fill="#47ffb0"/>
<rect x="210" y="73.92" width="4.67" height="4.67" fill="#78ff7f"/>
<rect x="210" y="78.53" width="4.67" height="4.67" fill="#0072ff"/>
<rect x="214.62" y="55.45" width="4.67" height="4.67" fill="#00acff"/>
<rect x="214.62" y="60.07" width="4.67" height="4.67" fill="#0ff8e8"/>
<rect x="214.62" y="69.3" width="4.67" height="4.67" fill="#4cffab"/>
<rect x="214.62" y="73.92" width="4.67" height="4.67" fill="#82ff74"/>
<rect x="214.62" y="78.53" width="4.67" height="4.67" fill="#bbff3b"/>
<rect x="214.62" y="83.15" width="4.67" height="4.67" fill="#f0fd07"/>
<rect x="214.62" y="87.76" width="4.67" height="4.67" fill="#ffc500"/>
<rect x="214.62" y="92.38" width="4.67" height="4.67" fill="#ffa400"/>
<rect x="214.62" y="96.99" width="4.67" height="4.67" fill="#ff8400"/>
<rect x="219.23" y="83.15" width="4.67" height="4.67" fill="#43ffb4"/>
<rect x="219.23" y="92.38" width="4.67" height="4.67" fill="#ff9a00"/>
<rect x="219.23" y="96.99" width="4.67" height="4.67" fill="#ff7a00"/>
<rect x="219.23" y="101.61" width="4.67" height="4.67" fill="#ff5b00"/>
<rect x="219.23" y="106.22" width="4.67" height="4.67" fill="#ff3c00"/>
<rect x="219.23" y="110.84" width="4.67" height="4.67" fill="#ff1a00"/>
<rect x="223.85" y="101.61" width="4.67" height="4.67" fill="#ff5000"/>
<rect x="223.85" y="106.22" width="4.67" height="4.67" fill="#ff2f00"/>
<rect x="223.85" y="110.84" width="4.67" height="4.67" fill="#f60c00"/>
<rect x="223.85" y="115.45" width="4.67" height="4.67" fill="#d70000"/>
<rect x="223.85" y="120.07" width="4.67" height="4.67" fill="#eeff09"/>
<rect x="228.46" y="115.45" width="4.67" height="4.67" fill="#d00000"/>
<rect x="228.46" y="120.07" width="4.67" height="4.67" fill="#c10000"/>
<rect x="228.46" y="124.68" width="4.67" height="4.67" fill="#b20000"/>
<rect x="233.08" y="124.68" width="4.67" height="4.67" fill="#ae0000"/>
<rect x="233.08" y="129.3" width="4.67" height="4.67" fill="#ae0000"/>
<rect x="233.08" y="133.92" width="4.67" height="4.67" fill="#ae0000"/>
<rect x="237.69" y="133.92" width="4.67" height="4.67" fill="#ae0000"/>
<rect x="237.69" y="138.53" width="4.67" height="4.67" fill="#ae0000"/>
<rect x="237.69" y="143.15" width="4.67" height="4.67" fill="#ae0000"/>
<rect x="242.31" y="143.15" width="4.67" height="4.67" fill="#ae0000"/>
<rect x="242.31" y="147.76" width="4.67" height="4.67" fill="#ae0000"/>
<rect x="242.31" y="152.38" width="4.67" height="4.67" fill="#ae0000"/>
<rect x="246.92" y="147.76" width="4.67" height="4.67" fill="#ae0000"/>
<rect x="246.92" y="152.38" width="4.67" height="4.67" fill="#ae0000"/>
<rect x="246.92" y="156.99" width="4.67" height="4.67" fill="#ae0000"/>
<rect x="251.54" y="156.99" width="4.67" height="4.67" fill="#ae0000"/>
<rect x="251.54" y="161.61" width="4.67" height="4.67" fill="#ae0000"/>
<rect x="256.15" y="161.61" width="4.67" height="4.67" fill="#ae0000"/>
<rect x="256.15" y="166.22" width="4.67" height="4.67" fill="#ae0000"/>
<rect x="256.15" y="170.84" width="4.67" height="4.67" fill="#efff08"/>
<rect x="260.77" y="170.84" width="4.67" height="4.67" fill="#ae0000"/>
<rect x="260.77" y="175.45" width="4.67" height="4.67" fill="#ae0000"/>
<rect x="265.38" y="175.45" width="4.67" height="4.67" fill="#ae0000"/>
<rect x="265.38" y="180.07" width="4.67" height="4.67" fill="#ae0000"/>
<rect x="270" y="180.07" width="4.67" height="4.67" fill="#ae0000"/>
<rect x="270" y="184.68" width="4.67" height="4.67" fill="#ae0000"/>
<rect x="274.62" y="184.68" width="4.67" height="4.67" fill="#ae0000"/>
<rect x="274.62" y="189.3" width="4.67" height="4.67" fill="#ae0000"/>
<rect x="279.23" y="189.3" width="4.67" height="4.67" fill="#ae0000"/>
<rect x="283.85" y="193.92" width="4.67" height="4.67" fill="#ae0000"/>
<rect x="288.46" y="193.92" width="4.67" height="4.67" fill="#ae0000"/>
<rect x="293.08" y="198.53" width="4.67" height="4.67" fill="#ae0000"/>
<rect x="293.08" y="203.15" width="4.67" height="4.67" fill="#24ffd3"/>
<rect x="297.69" y="198.53" width="4.67" height="4.67" fill="#ffdc00"/>
<rect x="297.69" y="203.15" width="4.67" height="4.67" fill="#b90000"/>
<rect x="302.31" y="203.15" width="4.67" height="4.67" fill="#c20000"/>
<rect x="302.31" y="207.76" width="4.67" height="4.67" fill="#96ff61"/>
<rect x="306.92" y="207.76" width="4.67" height="4.67" fill="#cf0000"/>
<rect x="311.54" y="207.76" width="4.67" height="4.67" fill="#de0000"/>
<rect x="316.15" y="207.76" width="4.67" height="4.67" fill="#9dff5a"/>
<rect x="316.15" y="212.38" width="4.67" height="4.67" fill="#f30900"/>
<rect x="320.77" y="207.76" width="4.67" height="4.67" fill="#bcff3b"/>
<rect x="320.77" y="212.38" width="4.67" height="4.67" fill="#ff1700"/>
<rect x="325.38" y="212.38" width="4.67" height="4.67" fill="#ff2900"/>
<rect x="330" y="212.38" width="4.67" height="4.67" fill="#ff3f00"/>
<rect x="330" y="216.99" width="4.67" height="4.67" fill="#ff4100"/>
<rect x="334.62" y="212.38" width="4.67" height="4.67" fill="#ff5600"/>
<rect x="334.62" y="216.99" width="4.67" height="4.67" fill="#ff5700"/>
<rect x="339.23" y="212.38" width="4.67" height="4.67" fill="#ff6c00"/>
<rect x="339.23" y="216.99" width="4.67" height="4.67" fill="#ff6c00"/>
<rect x="343.85" y="212.38" width="4.67" height="4.67" fill="#ff8200"/>
<rect x="343.85" y="216.99" width="4.67" height="4.67" fill="#ff8000"/>
<rect x="348.46" y="212.38" width="4.67" height="4.67" fill="#ff9700"/>
<rect x="348.46" y="216.99" width="4.67" height="4.67" fill="#ff9400"/>
<rect x="353.08" y="212.38" width="4.67" height="4.67" fill="#ffac00"/>
<rect x="357.69" y="207.76" width="4.67" height="4.67" fill="#ffc000"/>
<rect x="357.69" y="212.38" width="4.67" height="4.67" fill="#ffbd00"/>
<rect x="362.31" y="207.76" width="4.67" height="4.67" fill="#47ffb0"/>
<rect x="362.31" y="212.38" width="4.67" height="4.67" fill="#ffcc00"/>
<rect x="366.92" y="207.76" width="4.67" height="4.67" fill="#ffdf00"/>
<rect x="366.92" y="212.38" width="4.67" height="4.67" fill="#ffda00"/>
<rect x="371.54" y="203.15" width="4.67" height="4.67" fill="#7bff7c"/>
<rect x="371.54" y="207.76" width="4.67" height="4.67" fill="#ffec00"/>
<rect x="376.15" y="203.15" width="4.67" height="4.67" fill="#14fee3"/>
<rect x="376.15" y="207.76" width="4.67" height="4.67" fill="#f7f600"/>
<rect x="380.77" y="203.15" width="4.67" height="4.67" fill="#ecff0b"/>
<rect x="380.77" y="207.76" width="4.67" height="4.67" fill="#37ffc0"/>
<rect x="385.38" y="203.15" width="4.67" height="4.67" fill="#e4ff12"/>
<rect x="390" y="198.53" width="4.67" height="4.67" fill="#d7ff20"/>
<rect x="390" y="203.15" width="4.67" height="4.67" fill="#ddff1a"/>
<rect x="394.62" y="198.53" width="4.67" height="4.67" fill="#ccff2a"/>
<rect x="399.23" y="193.92" width="4.67" height="4.67" fill="#bcff3b"/>
<rect x="403.85" y="189.3" width="4.67" height="4.67" fill="#abff4c"/>
<rect x="408.46" y="184.68" width="4.67" height="4.67" fill="#9aff5c"/>
<rect x="408.46" y="189.3" width="4.67" height="4.67" fill="#a1ff55"/>
<rect x="413.08" y="184.68" width="4.67" height="4.67" fill="#91ff66"/>
<rect x="417.69" y="180.07" width="4.67" height="4.67" fill="#7fff77"/>
<rect x="417.69" y="184.68" width="4.67" height="4.67" fill="#87ff70"/>
<rect x="422.31" y="175.45" width="4.67" height="4.67" fill="#70ff87"/>
<rect x="422.31" y="180.07" width="4.67" height="4.67" fill="#00d7ff"/>
<rect x="426.92" y="170.84" width="4.67" height="4.67" fill="#61ff96"/>
<rect x="426.92" y="175.45" width="4.67" height="4.67" fill="#68ff8e"/>
<rect x="431.54" y="166.22" width="4.67" height="4.67" fill="#52ffa5"/>
<rect x="431.54" y="170.84" width="4.67" height="4.67" fill="#00afff"/>
<rect x="436.15" y="161.61" width="4.67" height="4.67" fill="#43ffb4"/>
<rect x="436.15" y="166.22" width="4.67" height="4.67" fill="#4bffac"/>
<rect x="440.77" y="27.76" width="4.67" height="4.67" fill="#004dff"/>
<rect x="440.77" y="32.38" width="4.67" height="4.67" fill="#004dff"/>
<rect x="440.77" y="36.99" width="4.67" height="4.67" fill="#0023ff"/>
<rect x="440.77" y="152.38" width="4.67" height="4.67" fill="#2bffcc"/>
<rect x="440.77" y="156.99" width="4.67" height="4.67" fill="#34ffc3"/>
<rect x="440.77" y="161.61" width="4.67" height="4.67" fill="#00d7ff"/>
<rect x="445.38" y="27.76" width="4.67" height="4.67" fill="#0058ff"/>
<rect x="445.38" y="32.38" width="4.67" height="4.67" fill="#0057ff"/>
<rect x="445.38" y="36.99" width="4.67" height="4.67" fill="#004fff"/>
<rect x="445.38" y="41.61" width="4.67" height="4.67" fill="#001fff"/>
<rect x="445.38" y="147.76" width="4.67" height="4.67" fill="#0099ff"/>
<rect x="445.38" y="152.38" width="4.67" height="4.67" fill="#26ffd1"/>
<rect x="450" y="32.38" width="4.67" height="4.67" fill="#002fff"/>
<rect x="450" y="41.61" width="4.67" height="4.67" fill="#0055ff"/>
<rect x="450" y="46.22" width="4.67" height="4.67" fill="#005aff"/>
<rect x="450" y="143.15" width="4.67" height="4.67" fill="#12fce5"/>
<rect x="450" y="147.76" width="4.67" height="4.67" fill="#19ffde"/>
<rect x="454.62" y="46.22" width="4.67" height="4.67" fill="#0060ff"/>
<rect x="454.62" y="50.84" width="4.67" height="4.67" fill="#0068ff"/>
<rect x="454.62" y="55.45" width="4.67" height="4.67" fill="#0071ff"/>
<rect x="454.62" y="133.92" width="4.67" height="4.67" fill="#02e9f4"/>
<rect x="454.62" y="138.53" width="4.67" height="4.67" fill="#07eef0"/>
<rect x="454.62" y="143.15" width="4.67" height="4.67" fill="#0df5ea"/>
<rect x="459.23" y="50.84" width="4.67" height="4.67" fill="#006eff"/>
<rect x="459.23" y="55.45" width="4.67" height="4.67" fill="#0077ff"/>
<rect x="459.23" y="60.07" width="4.67" height="4.67" fill="#0082ff"/>
<rect x="459.23" y="120.07" width="4.67" height="4.67" fill="#005fff"/>
<rect x="459.23" y="124.68" width="4.67" height="4.67" fill="#00dbff"/>
<rect x="459.23" y="129.3" width="4.67" height="4.67" fill="#00e1fb"/>
<rect x="459.23" y="133.92" width="4.67" height="4.67" fill="#00e6f6"/>
<rect x="463.85" y="60.07" width="4.67" height="4.67" fill="#0088ff"/>
<rect x="463.85" y="64.68" width="4.67" height="4.67" fill="#0094ff"/>
<rect x="463.85" y="69.3" width="4.67" height="4.67" fill="#00a0ff"/>
<rect x="463.85" y="73.92" width="4.67" height="4.67" fill="#0067ff"/>
<rect x="463.85" y="78.53" width="4.67" height="4.67" fill="#0072ff"/>
<rect x="463.85" y="83.15" width="4.67" height="4.67" fill="#00b3ff"/>
<rect x="463.85" y="96.99" width="4.67" height="4.67" fill="#0071ff"/>
<rect x="463.85" y="106.22" width="4.67" height="4.67" fill="#00c4ff"/>
<rect x="463.85" y="110.84" width="4.67" height="4.67" fill="#00c8ff"/>
<rect x="463.85" y="115.45" width="4.67" height="4.67" fill="#00ceff"/>
<rect x="463.85" y="120.07" width="4.67" height="4.67" fill="#00d4ff"/>
<rect x="463.85" y="124.68" width="4.67" height="4.67" fill="#0083ff"/>
<rect x="468.46" y="69.3" width="4.67" height="4.67" fill="#00a1ff"/>
<rect x="468.46" y="73.92" width="4.67" height="4.67" fill="#00a8ff"/>
<rect x="468.46" y="78.53" width="4.67" height="4.67" fill="#00aeff"/>
<rect x="468.46" y="83.15" width="4.67" height="4.67" fill="#00b4ff"/>
<rect x="468.46" y="87.76" width="4.67" height="4.67" fill="#00b7ff"/>
<rect x="468.46" y="92.38" width="4.67" height="4.67" fill="#00baff"/>
<rect x="468.46" y="96.99" width="4.67" height="4.67" fill="#00bdff"/>
<rect x="468.46" y="101.61" width="4.67" height="4.67" fill="#00c1ff"/>
<rect x="468.46" y="106.22" width="4.67" height="4.67" fill="#00c4ff"/>
<rect x="468.46" y="110.84" width="4.67" height="4.67" fill="#00c7ff"/>
</g>
<path fill="none" stroke="#b9b9bc" stroke-opacity="0.85" stroke-width="1.8" d="M244.2 274.5 245 274.1 244 273.5 227.4 267.3 215.1 261.7 204.9 256 195.5 249.8 186.1 242.5 177.4 234.4 169.4 225.5 162.4 216.2 156.3 206.2 151.1 195.5 147.1 184.5 144.3 173.3 142.7 162 142.1 150.6 142.8 138.7 144.7 127.3 147.8 115.5 152 104.3 157.4 93.3 163.7 83 171.1 72.9 179.4 63.5 188.8 54.5 198.9 46.3 210.4 38.6 222 32 234.3 26.2 247.3 21.2 261.1 17.1 275.6 14 289.1 12.4 300 12.3 M244.1 274.5 226 270.6 210.1 266.2 194.8 260.9 179.6 254.4 165.3 247 152.7 239.1 140.6 230 130.1 220.5 120.8 210.2 113 199.5 106.9 188.6 102.1 177 98.9 165.3 98 159.3 97.4 153.4 97.2 147 97.5 141 99.2 129.1 102.5 117.3 107.5 105.6 114.1 94.1 122 83.3 131.5 72.8 142.2 63 154.6 53.6 168 45 183.2 37 198.9 30.1 215.8 24.1 232.9 19.2 252.6 15.1 272.4 12.3 281.2 11.5 289 11.2 295.1 11.5 300 12.3 M244.1 274.5 222.6 271.3 201.6 267.1 181.1 261.8 162 255.6 144.3 248.6 127.1 240.3 111.3 231.3 97.6 221.8 85.4 211.5 80.3 206.4 75.2 200.8 70.7 195.2 66.7 189.5 63.1 183.7 60.1 177.9 57.6 172 55.6 166.1 54.1 160.2 53 153.8 52.5 147.8 52.5 141.4 53 135.5 54 129.5 55.7 123.1 57.7 117.2 60.4 110.9 63.5 105 67.1 99.2 71.2 93.5 75.8 87.8 80.9 82.3 92.2 71.7 105.6 61.6 120.4 52.2 137.5 43.3 156.1 35.3 176.3 28.2 197.3 22.2 218.9 17.5 232.5 15.1 246.1 13.2 259.8 11.6 273.4 10.6 285.9 10 293.1 9.9 297.1 10.6 300 12.3 M355.9 274.5 377.4 271.3 398.4 267.1 418.9 261.8 438 255.6 455.7 248.6 472.9 240.3 488.7 231.3 502.4 221.8 514.6 211.5 519.7 206.4 524.8 200.8 529.3 195.2 533.3 189.5 536.9 183.7 539.9 177.9 542.4 172 544.4 166.1 545.9 160.2 547 153.8 547.5 147.4 547.5 141.4 547 135.5 546 129.5 544.3 123.1 542.3 117.2 539.6 110.9 536.5 105 532.9 99.2 528.8 93.5 524.2 87.8 519.1 82.3 507.8 71.7 494.4 61.6 479.6 52.2 462.5 43.3 443.9 35.3 423.7 28.2 402.7 22.2 381.1 17.5 367.5 15.1 353.9 13.2 340.2 11.6 326.6 10.6 314.1 10 306.9 9.9 302.9 10.6 300 12.3 M355.9 274.5 374 270.6 389.9 266.2 405.2 260.9 420.4 254.4 434.7 247 447.3 239.1 459.4 230 469.9 220.5 479.2 210.2 487 199.5 493.1 188.6 497.9 177 501.1 165.3 502 159.3 502.6 153.4 502.8 147 502.5 141 500.8 129.1 497.5 117.3 492.5 105.6 485.9 94.1 478 83.3 468.5 72.8 457.8 63 445.4 53.6 432 45 416.8 37 401.1 30.1 384.2 24.1 367.1 19.2 347.4 15.1 327.6 12.3 318.8 11.5 311 11.2 304.9 11.5 300 12.3 M355.8 274.5 355 274.1 356 273.5 372.6 267.3 384.9 261.7 395.1 256 404.5 249.8 413.9 242.5 422.6 234.4 430.6 225.5 437.6 216.2 443.7 206.2 448.9 195.5 452.9 184.5 455.7 173.3 457.3 162 457.9 150.6 457.2 138.7 455.3 127.3 452.2 115.5 448 104.3 442.6 93.3 436.3 83 428.9 72.9 420.6 63.5 411.2 54.5 401.1 46.3 389.6 38.6 378 32 365.7 26.2 352.7 21.2 338.9 17.1 324.4 14 310.9 12.4 300 12.3 M355.8 274.5 346.7 274.5 345.1 274.2 345 273.6 346.5 272.4 358 265.6 365.8 260.1 374 252.9 381.3 245.1 388.3 236 394.6 226.1 400 215.6 404.5 204.3 407.6 194.4 409.9 184.2 411.6 174 412.5 163.6 412.8 153.1 412.3 142.1 411.2 131.6 409.3 121.1 406.6 110.3 403.2 99.6 399.1 89.6 394.3 79.7 389.1 70.6 383 61.7 376.6 53.5 369.3 45.7 361.7 38.7 353.6 32.4 345.1 26.9 336.7 22.3 327.2 18.3 318 15.3 309.1 13.3 300 12.3 M355.8 274.5 333.4 275.6 329.2 275.4 328.1 275 327.9 274.5 328.7 273.3 336.1 265.7 340.5 260.4 345.3 253.2 349.6 245.3 353.8 236.2 357.4 226.2 360.6 215.3 363.2 203.9 365.3 191.8 366.7 179.4 367.5 166.8 367.7 153.6 367.2 140.7 366.1 127.9 364.4 115.2 362.1 102.6 357.5 84.7 351.8 68.4 348.5 60.7 345.1 53.7 341.3 47 337.4 40.9 333.3 35.4 328.9 30.2 324.3 25.6 319.6 21.7 314.7 18.3 310 15.8 305.2 13.8 300 12.3 M355.8 274.5 338.5 275.9 321.7 276.7 311.3 276.9 309.7 276.7 309 276.1 312.9 263.7 315.6 251.8 318 236.5 320 218.4 321.5 198.1 322.3 176.4 322.5 154.1 322.1 131.2 321 108.9 319.3 87.7 317.1 68.3 314.3 50.9 311.2 36.5 307.8 25.3 305.9 20.8 304 17.1 302 14.3 300 12.3 M244.2 274.5 261.5 275.9 278.3 276.7 288.7 276.9 290.3 276.7 291 276.1 287.1 263.7 284.4 251.8 282 236.5 280 218.4 278.5 198.1 277.7 176.4 277.5 154.1 277.9 131.2 279 108.9 280.7 87.7 282.9 68.3 285.7 50.9 288.8 36.5 292.2 25.3 294.1 20.8 296 17.1 298 14.3 300 12.3 M244.2 274.5 266.6 275.6 270.8 275.4 271.9 275 272.1 274.5 271.3 273.3 263.9 265.7 259.5 260.4 254.7 253.2 250.4 245.3 246.2 236.2 242.6 226.2 239.4 215.3 236.8 203.9 234.7 191.8 233.3 179.4 232.5 166.8 232.3 153.6 232.8 140.7 233.9 127.9 235.6 115.2 237.9 102.6 242.5 84.7 248.2 68.4 251.5 60.7 254.9 53.7 258.7 47 262.6 40.9 266.7 35.4 271.1 30.2 275.7 25.6 280.4 21.7 285.3 18.3 290 15.8 294.8 13.8 300 12.3 M244.2 274.5 253.3 274.5 254.9 274.2 255 273.6 253.5 272.4 242 265.6 234.2 260.1 226 252.9 218.7 245.1 211.7 236 205.4 226.1 200 215.6 195.5 204.3 192.4 194.4 190.1 184.2 188.4 174 187.5 163.6 187.2 152.6 187.7 142.1 188.8 131.6 190.7 121.1 193.4 110.3 196.8 99.6 200.9 89.6 205.7 79.7 210.9 70.6 217 61.7 223.4 53.5 230.7 45.7 238.3 38.7 246.4 32.4 254.9 26.9 263.3 22.3 272.8 18.3 282 15.3 290.9 13.3 300 12.3 M187 243.2 164 241 144.1 239.5 126.1 238.6 109.3 238.3 M490.4 238.3 469.2 238.8 445.6 240.2 419.1 242.6 347.6 250.1 326.4 251.7 307.2 252.4 285 252.2 261.2 250.9 236.2 248.6 187 243.2 M151 195.1 120.3 192.2 93.8 190.3 69.5 189.1 45.9 188.8 M553.7 188.8 525.4 189.3 494.9 191 461.9 193.8 396 200.6 368.3 203.1 338.6 205.1 311.2 206.1 279.3 205.8 245.9 204.2 211.1 201.3 151 195.1 M142.6 141 109.8 137.9 82.3 135.8 56.1 134.6 30.6 134.2 M569 134.2 538.6 134.8 507.3 136.5 473.8 139.4 405.5 146.5 375.5 149.3 343.2 151.4 312.8 152.5 277.8 152.3 241.4 150.5 203.5 147.4 142.6 141 M160.9 87.2 131.8 84.2 107.6 82.2 84.5 81 61.4 80.7 M538.2 80.7 511.4 81.2 484.2 82.8 455.9 85.4 396.8 92.1 369.7 94.8 340.4 96.9 312.5 97.9 280.1 97.8 246.9 96.1 212.7 93.1 160.9 87.2 M208.2 39.9 189.1 37.2 173.9 35.6 158.8 34.7 143.1 34.3 M456.6 34.3 439.4 34.7 422.7 35.9 406.5 37.8 369.2 43.3 350.5 45.6 329.8 47.5 309.7 48.4 286.4 48.3 263 47 239.3 44.4 208.2 39.9"/>
</g>
<g fill-opacity="0.75"><text x="53.1" y="133.7" font-size="16" fill="#d8d8d8" text-anchor="middle">60</text>
<text x="97.9" y="136.1" font-size="16" fill="#d8d8d8" text-anchor="middle">30</text>
<text x="142.6" y="140.2" font-size="16" fill="#d8d8d8" text-anchor="middle">0</text>
<text x="187.4" y="145" font-size="16" fill="#d8d8d8" text-anchor="middle">-30</text>
<text x="232.4" y="149.1" font-size="16" fill="#d8d8d8" text-anchor="middle">-60</text>
<text x="277.5" y="151.5" font-size="16" fill="#d8d8d8" text-anchor="middle">-90</text>
<text x="322.5" y="151.5" font-size="16" fill="#d8d8d8" text-anchor="middle">-120</text>
<text x="367.6" y="149.1" font-size="16" fill="#d8d8d8" text-anchor="middle">-150</text>
<text x="412.6" y="145" font-size="16" fill="#d8d8d8" text-anchor="middle">180</text>
<text x="457.4" y="140.2" font-size="16" fill="#d8d8d8" text-anchor="middle">150</text>
<text x="502.1" y="136.1" font-size="16" fill="#d8d8d8" text-anchor="middle">120</text>
<text x="546.9" y="133.7" font-size="16" fill="#d8d8d8" text-anchor="middle">90</text>
<text x="208.2" y="39.9" font-size="16" fill="#d8d8d8" text-anchor="middle">60</text>
<text x="160.9" y="87.2" font-size="16" fill="#d8d8d8" text-anchor="middle">30</text>
<text x="151" y="195.1" font-size="16" fill="#d8d8d8" text-anchor="middle">-30</text>
<text x="187" y="243.2" font-size="16" fill="#d8d8d8" text-anchor="middle">-60</text>
<text x="246" y="275" font-size="16" fill="#d8d8d8" text-anchor="middle">90</text></g>
<circle cx="30.5" cy="143.5" r="3.3" fill="#8a8a8a"/>
<text x="566.8" y="138" font-size="21.5" fill="#6e6e6e" text-anchor="start">Tail</text>
<circle cx="300.3" cy="143.3" r="3.3" fill="#dcd7d0"/>
<text x="296.2" y="138.2" font-size="21.6" fill="#ececec" text-anchor="start">Nose</text>
<circle cx="300.9" cy="89.3" r="3.3" fill="#dcd7d0"/>
<text x="297.5" y="84.3" font-size="21" fill="#ececec" text-anchor="start">V1</text>
<circle cx="253.3" cy="208" r="3.3" fill="#dcd7d0"/>
<text x="249.3" y="203.4" font-size="21.8" fill="#ececec" text-anchor="start">V2</text>
</g>
<g transform="translate(0,424.3)">
<text x="300" y="10" font-size="16" fill="#8c8c8c" text-anchor="middle">90</text>
<clipPath id="clip2"><ellipse cx="300.0" cy="143.4" rx="270.0" ry="134.0"/></clipPath>
<g clip-path="url(#clip2)">
<g filter="url(#blur)">
<rect x="0" y="0" width="600" height="290" fill="#000083"/>
<path fill="#00008a" d="M0 0 0 289.5 599.5 289.5 599.5 0Z"/>
<path fill="#000091" d="M0 0 0 289.5 599.5 289.5 599.5 0Z"/>
<path fill="#000098" d="M0 0 0 289.5 599.5 289.5 599.5 0Z"/>
<path fill="#00009f" d="M0 0 0 147.5 27 147 30.5 147.5 33.5 149 40 156 46 166 56 180 77 201 81.5 209 82.5 212.5 82.5 217.5 81.5 219.5 76.5 223 4 249 0 249 0 289.5 599.5 289.5 599.5 165.5 571 163.5 568.5 162.5 567 161 566 158.5 566 154 568 148 571.5 145 573 144.5 599.5 144.5 599.5 0Z"/>
<path fill="#0000a6" d="M0 0 0 118.5 8.5 118.5 9 119 31 120.5 36 121.5 40 123.5 51 132.5 55.5 137.5 58.5 143 62 158 66 167.5 70 173 74.5 177.5 84 185 92 193.5 97.5 203.5 99.5 211.5 99 224.5 98 227 94 231 10 267.5 3 270 0 270 0 289.5 599.5 289.5 599.5 185.5 591.5 185 562 180.5 557.5 177.5 556 173.5 556 158 557.5 147 561 134 564 129 566.5 127 570 126 589.5 125 590 124.5 599.5 124.5 599.5 0Z"/>
<path fill="#0000ad" d="M0 0 0 101.5 7.5 102 41 107 57 115 74 120.5 79 123 86.5 128.5 93 135.5 95 141 95 143.5 93.5 149 89.5 157 89.5 162 91.5 166.5 101.5 181.5 108.5 195 112 204.5 113.5 211.5 113.5 218.5 112 226 109.5 232.5 105 237 13 281.5 0.5 289.5 599.5 289.5 599.5 197.5 595 197.5 557 190.5 553.5 189 551 186.5 550 184 549.5 171.5 549 171 549.5 155 552 139 556.5 125.5 559.5 120.5 561.5 118.5 566.5 116.5 589 114 599.5 113.5 599.5 0Z"/>
<path fill="#0000b4" d="M0 0 0 89.5 5 89.5 47.5 97.5 63.5 106 76 110.5 83 114 104.5 128 108.5 132 110 134.5 111.5 140.5 111 148.5 109 159 109 165.5 110 171.5 115.5 188 122.5 204.5 125 213.5 125 222 124 226 120 235.5 116 240.5 109 245 38 282.5 34 285 31.5 287.5 31 289.5 599.5 289.5 599.5 208.5 593 208 552 199 548 197.5 545 194.5 544 191 543.5 172.5 543 172 543 156.5 545 140 549.5 125.5 556 113.5 559 111 565 109 599.5 105 599.5 0Z"/>
<path fill="#0000bb" d="M0 0 0 79 5 79 54 90 64.5 97 80 105 94.5 114.5 109.5 122.5 115 127 118.5 133 119.5 138.5 119 150 117.5 160 117.5 164.5 119 174.5 123.5 189.5 131.5 207 135 217.5 135.5 224 133 233 128.5 241 123.5 246 60 283 56 286 54.5 288 54.5 289.5 599.5 289.5 599.5 220.5 592 219.5 561 211 549.5 208.5 543 206.5 539.5 204.5 538 202 538.5 184 537 168.5 537.5 149 540.5 132.5 545 121 552.5 108 556 105 562 103 595 98 599.5 98 599.5 0Z"/>
<path fill="#0000c2" d="M0 0 0 68.5 10 70 55.5 81.5 62.5 84.5 73 93.5 91 106.5 100.5 112.5 112 118 117.5 121.5 122 126.5 124 131.5 125 138.5 124.5 153 124 153.5 124 167.5 125 174.5 127 183 130 191.5 144 220 145 224.5 145 231 144 235.5 140 245 136.5 249.5 121.5 260 88 281.5 82 286.5 81 289.5 599.5 289.5 599.5 233.5 596 233.5 590 232 585 230 536 215.5 532 213.5 530.5 212 529.5 209.5 533 192 533 182 531.5 169 531.5 156.5 533.5 137 538 123 548.5 104 552.5 100 556 98.5 595 91.5 599.5 91.5 599.5 0Z"/>
<path fill="#0000c9" d="M0 0 0 59 3.5 59 66 77 69 79 83 94 93.5 103 104 110 115 115 121.5 119 124.5 122 127.5 127.5 129 135 128.5 158.5 129 159 129 169 130.5 178.5 134.5 191 141 203.5 149.5 216.5 152.5 223 153.5 227 153.5 237 151.5 246 148.5 252.5 143 257.5 108 283 104 287.5 104 289.5 599.5 289.5 599.5 248 594.5 247.5 527.5 224 522.5 221.5 520.5 219 520.5 214.5 525 203.5 527.5 193.5 526.5 155 527 154.5 527 146 528 137.5 531.5 125 546 98.5 549 95.5 553.5 93.5 593.5 85.5 599.5 85 599.5 0Z"/>
<path fill="#0000cf" d="M0 0 0 50 0.5 50.5 4 50.5 57.5 67 72.5 72.5 76.5 76 87 91 96.5 100.5 107.5 108 123.5 116 128 120.5 130 124 131.5 128.5 132.5 135 132.5 163 133 163.5 133.5 174 135.5 183 138.5 191 142.5 198.5 153 213 158.5 222 160.5 229 160.5 240.5 158.5 251.5 156 256 152 260 124.5 281.5 120 286 119 289.5 599.5 289.5 599.5 263 596 263 518.5 232 512.5 229 510.5 227 510 225.5 511.5 219.5 520.5 201.5 522.5 193 522 150.5 524 132.5 527.5 122 537 105.5 542 95 545.5 91 551.5 88.5 593.5 79.5 599.5 79 599.5 0Z"/>
<path fill="#0000d6" d="M0 0 0 42.5 7 43.5 76.5 67.5 81.5 72 91.5 89.5 99.5 98.5 108.5 105 125 113.5 130 118 132.5 122 134 126 135.5 134 136 167.5 137 175.5 139 183.5 147 199.5 159.5 215 163 220.5 166 229.5 166.5 238 165 252.5 163 257.5 156 264.5 135.5 281.5 132 285 130 289.5 599.5 289.5 599.5 278 596 277.5 589.5 275 507 237.5 502 234.5 500 231 501.5 226 510.5 212 514.5 204 517.5 193.5 518 189.5 518 170.5 517.5 170 518 143 520.5 127.5 522.5 122 533.5 102.5 539 90 541.5 87 546.5 84.5 590.5 74 599.5 73 599.5 0Z"/>
<path fill="#0000dd" d="M0 0 0 35.5 3.5 35.5 73 60.5 82 64.5 86.5 69 93.5 85 98.5 92.5 107 100.5 128 112.5 132.5 117 135 121 137 126.5 138 132 138.5 163 139 163.5 139.5 173.5 141.5 182 147 194 151 200 166 218 170 227.5 171 233.5 170.5 253 168 260 141.5 284.5 139.5 288 139.5 289.5 586 289.5 585.5 287.5 583.5 285.5 577 281.5 495.5 241 492 238 491.5 233.5 494 228.5 506 211 509.5 204 512 197 513.5 188.5 514 141.5 516 127.5 518 121.5 530.5 98.5 535.5 85.5 539 82 545.5 79.5 588 69 590 68 599.5 66.5 599.5 0Z"/>
<path fill="#0000e4" d="M0 0 0 29 3 29 14.5 33 21 36 78 57.5 86.5 61.5 91 66.5 96 81 100.5 89.5 104.5 94.5 112.5 101 128.5 110 132.5 113.5 136 118 138.5 123 140.5 131.5 140.5 154 141 154.5 141.5 169.5 145 184 147.5 189.5 152.5 197.5 167 214 170 218.5 172.5 223.5 175 233.5 175 255.5 174 259.5 172.5 262 150.5 283 147.5 287.5 147.5 289.5 564 289.5 564 288 562 285.5 555 281 488 245 484 241.5 483.5 237.5 486 232.5 501 211 505.5 202 507.5 196 509.5 184 510 143 512 127.5 514.5 119.5 527 95.5 531.5 81.5 535 78 541 75.5 595.5 60.5 599.5 60.5 599.5 0Z"/>
<path fill="#0000eb" d="M0 0 0 23 4.5 23.5 84 55.5 90 58.5 92.5 60.5 95.5 65.5 100 81 105.5 91 113.5 98.5 130.5 109 138 117 141 123 142.5 129 143.5 167 144.5 174 147 182.5 150.5 190 154 195.5 169.5 213 174 219.5 177.5 228 178.5 233.5 179 258.5 178 261.5 175.5 265 156 284.5 154.5 287 154 289.5 547 289.5 546.5 287 539.5 281.5 480.5 247.5 477 244 476.5 241.5 478.5 236.5 488.5 223 496.5 210.5 500.5 202.5 503 195.5 505.5 181.5 506 148 508.5 126.5 511 118.5 523 94 527.5 77.5 531 74 538.5 71 596 54 599.5 54 599.5 0Z"/>
<path fill="#0000f2" d="M0 0 0 17.5 4.5 18 86.5 52.5 95 57 98.5 62 103.5 80.5 108.5 90 115 96.5 133 108.5 137.5 113 141 118 143.5 123.5 145 130.5 145.5 166.5 146.5 173 149 181.5 155 193 175.5 217 179.5 224.5 182 235.5 182.5 254.5 183 255 183 259 182 262.5 178.5 267.5 162 284.5 160.5 287 160 289.5 533.5 289.5 533 287 528 282.5 473.5 249 471 246 471 242 475 235 482 226 490.5 213 495.5 203.5 499 194 501.5 180.5 502.5 146.5 505 127 508.5 116 517.5 97 520.5 87.5 522.5 75.5 524 72.5 530 68.5 543.5 64 545 64 593.5 48 599.5 47.5 599.5 0Z"/>
<path fill="#0000f9" d="M0 0 0 12 4 12.5 9.5 14.5 91 50.5 97.5 54 100.5 57 102 60 105 74.5 107.5 82 111 88.5 116 94 133.5 106.5 142.5 116.5 145 121.5 147 129.5 147 161.5 148.5 172.5 151 181 158 193.5 164.5 201.5 174.5 212 180.5 220.5 183.5 227.5 185 235.5 185.5 250.5 186.5 256 186 263 182.5 268.5 168 284 166 287.5 166 289.5 523 289.5 522 286.5 516 281.5 470.5 252.5 467 249.5 465.5 246.5 466.5 242 468.5 238.5 479 224.5 486 213.5 494 196 496.5 186.5 498 176 499 146.5 501.5 128.5 504.5 117.5 514.5 94 516.5 86 518 72 519 69.5 522 66.5 526 64.5 594 41 599.5 40.5 599.5 0Z"/>
<path fill="#0000ff" d="M0 0 0 6.5 2.5 6.5 8 8.5 100.5 51.5 104 55 105 57 108.5 75 111.5 83.5 113.5 87 120.5 94.5 134.5 105 141.5 112 144.5 116 147 121 149 128.5 149 163.5 152 178 155 185 160 193 168 202.5 174.5 209 182 218.5 186 226.5 187.5 233 188.5 250 190 258 189.5 264.5 187.5 268 172.5 285 171 289.5 514 289.5 513.5 287 509.5 283 466 254 461.5 249 461.5 244.5 463.5 240.5 480 217 486 205.5 490.5 193.5 494 176.5 495 152.5 498 130.5 500 122 503 113 508 101.5 511.5 90 513 79 513.5 67.5 517 63 520.5 61 590.5 35 599.5 33 599.5 0Z"/>
<path fill="#0000ff" d="M8 0 8.5 2 13 5.5 88.5 41.5 104 49.5 108 54 112 76 116 85.5 123.5 94 136.5 104.5 143 111 147 116.5 149 120.5 151 128.5 150.5 160.5 151.5 168.5 154 178 158 186.5 163.5 194.5 184 217.5 188 224.5 190 232 191 247.5 193.5 260.5 193.5 263.5 191 269 177.5 285 176.5 287 176.5 289.5 506.5 289.5 506.5 288 505 285.5 501.5 282.5 460.5 254 457.5 250 457.5 246 459.5 241.5 471 225.5 478 214 482.5 204.5 486.5 193 490 176.5 491.5 151.5 495 130.5 499 115.5 503 105.5 507.5 90.5 508.5 82.5 508.5 70 508 69.5 508.5 64 509.5 62 512.5 59 517.5 56.5 589.5 28 595.5 26 599.5 25.5 599.5 0Z"/>
<path fill="#0000ff" d="M19.5 0 20 2 26 6.5 105.5 46 109 48.5 112 53.5 114 71.5 116.5 80 119 85 121.5 88.5 129 96 144.5 110 149 116 152 123 153 128.5 153 141.5 152.5 142 152.5 153 152 153.5 152.5 164 153.5 170 156 178 159 184.5 165 193.5 186.5 217.5 190.5 224.5 192.5 232 193.5 246.5 195 255.5 196.5 260 196.5 266.5 193.5 271.5 184.5 282 181.5 287 181 289.5 500 289.5 500 288 498.5 285.5 494.5 282 458 256 455 253 454 251 454 247.5 457 240.5 469 223.5 474.5 214 478 206.5 482.5 193 486 175.5 487.5 155 491 134.5 496.5 114 501 101.5 504 87.5 504 72 503 66 503.5 60 506 56.5 513.5 52.5 594.5 18.5 599.5 18 599.5 0 272.5 0 272.5 5 270.5 7.5 266.5 9.5 259 11 254 11 250 9.5 246.5 5 245.5 0Z"/>
<path fill="#0004ff" d="M30.5 0 32.5 3.5 40.5 8.5 111 45 114 48 115.5 51.5 116 64 117 71 118.5 77 122 84.5 126 90 145 108 151.5 116.5 153.5 121 155 129.5 154.5 145.5 154 146 154 162 155.5 171 157.5 177 161 184.5 167.5 194 189.5 218 192 222 194.5 230 196.5 250 200 262 200 267.5 197.5 272 187 285.5 186 289.5 494 289.5 494 287.5 490 283 456.5 258.5 451.5 253.5 451 248 454.5 240 466.5 222.5 471 214.5 476 202.5 478.5 193.5 481 180.5 483.5 156.5 486 142.5 490.5 124.5 497 104 499.5 93 500 76 498 64 498 57.5 499 55.5 502 52.5 508.5 49 591 12 596.5 10 599.5 10 599.5 0 364.5 0 364 3.5 362.5 7 359 10.5 353.5 12.5 344 12 334.5 8.5 331.5 5.5 331 0 288 0 287.5 4.5 284.5 8 279 10.5 262.5 13.5 252 13.5 246.5 11.5 244 9 242 5.5 241 0Z"/>
<path fill="#000aff" d="M42 1.5 47 6 108.5 39 115 43 118 46 119.5 51.5 119 54 119.5 67.5 122.5 79.5 129 90 150 111 153.5 116 155.5 121 156.5 125.5 156.5 141.5 155.5 149.5 155.5 160.5 156.5 168 159.5 177.5 163 184.5 168 192 178 203.5 189.5 215 193 219.5 195.5 224.5 197 231.5 198.5 247.5 199.5 252.5 203.5 263.5 203.5 268.5 200.5 274 192.5 284.5 191 289.5 488.5 289.5 488.5 287.5 484.5 283 452 258.5 448 253.5 448 249 453 238 465 220 469.5 211 474 197.5 480.5 151.5 486.5 128 493 107 496 93 496 78 492.5 58 493 54 494.5 51.5 498.5 48.5 588.5 5.5 593.5 1.5 594 0 463.5 0 462 3.5 457.5 8 442.5 20.5 437 23.5 428 23 422 20.5 420 18.5 420.5 15.5 429 6 431 2.5 431.5 0 377.5 0 376.5 5.5 372.5 10.5 366.5 13 355.5 15 342.5 14.5 311 8.5 301.5 8 284.5 12.5 259.5 15.5 250 15 244 12.5 239.5 7.5 237.5 0 42 0Z"/>
<path fill="#0010ff" d="M53.5 1.5 55.5 4 61.5 8 119 40.5 122 43.5 123 45.5 122.5 66.5 124 75 128 84.5 133.5 92 153.5 112.5 157.5 121 158.5 126.5 158.5 137.5 157.5 144.5 157 159 158 167 161.5 178 165.5 185.5 172 194.5 194.5 218 198 225.5 201 248.5 203.5 257 207.5 266 207.5 269 205.5 273.5 197.5 284.5 196 289.5 483.5 289.5 482.5 286.5 477.5 281.5 447 257.5 445 254 445 250.5 450 239 462 220.5 467 210 470 200.5 472 188.5 473 171.5 475.5 156.5 479.5 141 489 110.5 492.5 93 492.5 83 491.5 75 487.5 55.5 488 51.5 489.5 49 494 45.5 571 7 577 3 578.5 0 481.5 0 481 2 479 4 450.5 25 444 31 442 32 437 32 426 29.5 390 18 375.5 16 350.5 17 317.5 13 298 12.5 283 15 268.5 16.5 250 16.5 242.5 14 238 10 235.5 5.5 234.5 0 53.5 0Z"/>
<path fill="#0016ff" d="M65 0 66 2.5 70 6 120 35.5 127 41.5 127.5 48.5 126 55 125.5 64 126 64.5 126 70 128.5 79.5 131.5 85.5 136.5 92.5 155 111.5 158 116.5 159.5 121 160 140 159 146.5 159 163.5 161.5 173.5 166.5 184 172 192 176.5 197.5 196.5 217.5 199.5 223 203.5 249.5 205.5 255.5 211.5 267.5 211 272.5 203 284.5 202 287 202 289.5 478 289.5 478 287.5 472.5 281.5 444 258.5 442.5 256 442 252.5 444 246.5 448.5 237.5 458.5 222 463 213 466 204.5 468 194.5 468.5 173.5 470.5 160.5 476 141 482.5 122.5 487.5 104 489 93.5 489 86.5 488 78 483.5 59 483 50 484 47.5 488.5 43.5 557 7.5 563 3.5 564.5 1.5 564.5 0 484.5 0 484.5 1.5 482 4.5 452 26.5 444 35 441 36 434.5 35 421.5 31.5 394 22.5 380.5 19.5 372.5 18.5 351 18.5 350.5 18 343 18 314 15 296 15 291 16 275.5 17.5 268 17.5 267.5 18 248.5 17.5 240 14.5 234.5 9.5 232 4.5 231.5 0Z"/>
<path fill="#001dff" d="M78 0 79 3 82.5 6 126.5 33.5 132.5 39.5 133 42.5 129 59 129 69.5 130 75 132 81 136 88.5 142 96 154.5 108 160 116.5 162 125 162 136 160.5 148 160.5 162.5 163 173 168 183.5 175.5 194 199.5 218.5 202 224.5 204 242 206 250.5 209 257.5 216 268.5 216.5 270.5 216 273.5 208.5 286 208 289.5 473 289.5 472 286 467.5 281.5 441.5 260 439.5 257 439.5 252 446.5 237 456 222 462.5 207 465 194 464.5 171.5 466 162 474 136.5 479 123.5 484.5 103 485.5 95 485 84 479 57 478.5 47.5 480 44.5 484 41 541.5 9.5 549.5 4.5 552 2 552.5 0 486.5 0 486 2.5 482 6.5 452.5 28 449.5 31 446.5 36.5 443 39 440 39 429 36.5 392 24.5 372.5 20.5 358 20 357.5 19.5 344 19.5 343.5 19 315 17.5 314.5 17 295.5 17 275.5 19 248 18.5 240.5 16.5 234.5 13 230 7 228.5 3 228.5 0Z"/>
<path fill="#0023ff" d="M91.5 0 92 2.5 95 5.5 134.5 32 138.5 36.5 139 38.5 138.5 41.5 133.5 54 132 63.5 132.5 72.5 134 79 140 90.5 144 95.5 158 109.5 162.5 118 163.5 122.5 163.5 138 162 149.5 162 161.5 163 167.5 165.5 175 170.5 184.5 176.5 193 186.5 204 200 216 203.5 222.5 206 242 208.5 251 213 259.5 220 267.5 222 271 221.5 276.5 216.5 285 215.5 289.5 468 289.5 466.5 285.5 462.5 281.5 438 260.5 436.5 258 436.5 253.5 443.5 238.5 452.5 224 459.5 208.5 462 196 462 185.5 461 179.5 461.5 164.5 468 143.5 477.5 118 481 104.5 482 96.5 481.5 85.5 474.5 55 474 45 474.5 43.5 479 39 534.5 7 540 2.5 541 0 488.5 0 487.5 3 483.5 7 454 28.5 450 33 447.5 40 444.5 42 438 41.5 426 38.5 389.5 26 376.5 23 366 21.5 337 20.5 336.5 20 318.5 19.5 318 19 293 19 292.5 19.5 275 20 274.5 20.5 257.5 20.5 247.5 19.5 239.5 17.5 232.5 14 228 9 225.5 4 225 0Z"/>
<path fill="#0029ff" d="M105 0 106 3 109.5 6.5 141 29 144.5 32.5 145.5 34.5 144.5 40 138.5 51 136.5 57 135.5 62 135.5 73 137.5 81 140.5 87.5 147 96 159.5 108.5 164.5 118.5 165.5 125 165.5 133.5 163.5 151 163.5 160.5 165 168.5 167 174.5 171 182.5 177.5 192 183 198.5 189.5 205 196.5 210.5 203.5 218 206 225 208 242.5 210.5 250.5 216 259.5 224.5 267 230.5 273.5 230.5 277.5 226.5 285.5 226 289.5 462.5 289.5 461.5 286 434.5 261 433.5 259 433.5 254.5 443 235.5 451 222.5 457 208.5 459 199 459 186 457.5 177.5 457.5 166.5 458.5 161.5 464 145 471.5 127 477.5 106.5 478.5 100 478 85 474.5 69 471 57.5 469 44.5 470.5 40.5 473.5 37.5 526 5.5 529.5 2 530 0 490 0 489 3.5 485 7.5 455.5 29 452 32.5 450.5 35.5 450 42.5 447.5 45 441.5 45 432 43 411.5 36.5 398 31 385.5 27 365 23 353.5 22.5 353 22 309.5 21 309 20.5 288.5 21 288 21.5 256 21.5 247 20.5 237 18 229 14 223.5 7 222 3.5 221.5 0Z"/>
<path fill="#002fff" d="M117.5 0 118.5 3 123.5 8 147.5 26.5 152 31.5 152.5 33.5 152 36 143.5 49.5 140 58 138.5 65.5 138.5 73 141 83 144 89 146.5 92.5 160.5 107 163.5 111.5 166 117.5 167 123 167 136 165.5 146.5 165 159 166 166 169 175 174 184.5 183 196.5 192 205.5 200.5 212 205 217 207.5 223.5 209 238 210.5 244.5 215 254.5 222 262 230.5 267.5 237.5 271 241.5 274.5 242.5 277.5 240 284.5 239.5 289.5 457 289.5 457 288 454.5 284 432.5 264 430 260 430 256.5 439.5 238 448.5 223 454.5 209 456.5 199 456.5 189 454 173.5 454.5 164.5 458 152.5 470.5 123.5 475.5 104 476 91 474.5 79.5 472 70 466 53.5 464.5 47 464.5 41.5 465.5 39 469.5 35 515 6 519 2 519.5 0 491.5 0 491.5 2 490.5 4 486 8.5 454 32.5 452.5 35.5 453.5 45.5 451.5 48 450 48.5 442.5 48 430.5 45.5 416 41 395.5 32.5 383.5 28.5 361 24 344 23.5 343.5 23 316.5 23 316 22.5 263.5 23 244 21 233 18 225.5 14 220 7 218 2 218 0Z"/>
<path fill="#0035ff" d="M509.5 0 493.5 0 493 4 487.5 10 479.5 15.5 456 34 455.5 35 456 38.5 457 39.5 458.5 39.5 461 36 466 31.5 504.5 6.5 507.5 4ZM126.5 0 127 3 129 6 133 10 151.5 25 156.5 30 158 33 156 38.5 148.5 48.5 144.5 56 142 64.5 141.5 72 143 81 145.5 87 150.5 94 159.5 103 163 107.5 167.5 117 168.5 121.5 168.5 137.5 167 148 167 162.5 170.5 174.5 174.5 182.5 183 194.5 190 202 201.5 211 207 217 209.5 224.5 210 232.5 212 243 215 250.5 218.5 255.5 222 259 227 262.5 233 265.5 243 269 247 271 250.5 274 252 278 249.5 287 249.5 289.5 451 289.5 451 287.5 449.5 285 427.5 263.5 426.5 261.5 426.5 258 428.5 253.5 445.5 224.5 452 209.5 454 200 454 190 451 171.5 451.5 164.5 455 153.5 468 125.5 471 116.5 473.5 105.5 474 89 472.5 79 467 63 464.5 58 460.5 52.5 458.5 51.5 455.5 52 446 51.5 427 47.5 416 44 398 36 381.5 30 369.5 27 357.5 25 352.5 25 352 24.5 338 24.5 337.5 25 268.5 24.5 268 24 251 23 239 21 227.5 17.5 223 15 218.5 10.5 215 4.5 214 0Z"/>
<path fill="#003bff" d="M130 0 131.5 5 136.5 10 158 28 162 33.5 161 38 151 51.5 147 59.5 145 67 145 77 146.5 83 149.5 89 163 104.5 166 109 169 116 170.5 124.5 170.5 132.5 168.5 149.5 168.5 161.5 172 174 176.5 183 185.5 195.5 193.5 203.5 203 210.5 209 217 211 223 212 235 213.5 242 217 250 220 254 225 258.5 230 261.5 250 268.5 255 271.5 258 274.5 259 276.5 259 281.5 257.5 286.5 257.5 289.5 444.5 289.5 444.5 287.5 443 285 424.5 266.5 422.5 263 422.5 259.5 443 225 447 217 450 208.5 451.5 201 451.5 190 448.5 173.5 449 164 454 151 465 129.5 469.5 117 472 106.5 472.5 88 471.5 81.5 468 70 464.5 63 461.5 59 456 56 435.5 52.5 421.5 49 409.5 44.5 397.5 38.5 385.5 33.5 372.5 29.5 353.5 26 281 26.5 280.5 26 271 26 270.5 25.5 259.5 25 238.5 22 224.5 18 217.5 14 212.5 7.5 210.5 3.5 210 0ZM340.5 69.5 342 69.5 344 71.5 344 74 342 76 340 76 338 74 338.5 71Z"/>
<path fill="#0041ff" d="M132 0 132.5 3 134.5 6 157.5 25.5 165.5 34 165.5 37 164.5 39 155.5 51 150.5 60 148 69.5 148 77 150 84.5 152 88.5 165.5 105 169.5 112.5 171 117 172 123 172 135 170 151.5 170 159.5 171.5 168 176.5 180 185.5 193.5 193 201.5 204.5 210 211 217 213 224.5 214 236.5 216 243.5 220.5 251.5 224 255 231 259.5 239 262.5 250 265.5 261 271.5 265 275.5 266 277.5 265 289.5 437 289.5 437 287.5 435 284 420 268.5 418 265.5 417.5 262.5 419.5 258 425.5 250.5 440 226.5 446 214 448.5 205.5 449.5 197 449 189 446 173.5 446.5 164.5 449.5 156.5 463 131 466.5 122.5 470 110.5 471.5 101 471.5 91.5 470.5 83 466.5 70.5 464 66 460 61.5 457.5 60 450.5 58 430.5 54.5 419 51.5 410 48 384.5 35.5 372.5 31.5 354 27.5 341.5 27.5 334.5 28.5 288.5 28.5 288 28 279 28 278.5 27.5 262.5 26.5 238 23 219.5 18 215.5 16 211.5 12.5 206 4 205.5 0ZM340 65.5 343 65.5 345 66.5 346.5 68 348 72 346.5 76.5 342.5 79.5 338 79 335.5 76.5 334.5 74 334.5 72 336 68.5Z"/>
<path fill="#0047ff" d="M133.5 0 133.5 1.5 135 4.5 139 8.5 162.5 28.5 167 31.5 169.5 34.5 168.5 39 161 49 154.5 59.5 151.5 68.5 151 76 152 81.5 155 88.5 167.5 105 170.5 110.5 173 118.5 173.5 137 172 147.5 172 162.5 173 167 178.5 180.5 188 194.5 196.5 203 208.5 211.5 212.5 216 214 220 215 233 217 241.5 220 247.5 226 254 234 258.5 247 262 255 265 269 273 272 276 273 278 272.5 289.5 428.5 289.5 428.5 288 426 283.5 413 269 412 267 412 263.5 414.5 259.5 424.5 248 436 229.5 443 216 446 206.5 447 200.5 447 192.5 443.5 172.5 444 166 446.5 159 455 144 464 126 467.5 116 470.5 100 470 87.5 468.5 80 464 69.5 460 65 453.5 62 424.5 56.5 416 54 404 48.5 398.5 45 384.5 38 372 33.5 356 29.5 344 29 334 30.5 291.5 30.5 291 30 283.5 30 264.5 28 257.5 26.5 237.5 24 218 19.5 214 18 209.5 15.5 204.5 10 201 4.5 200 0ZM341.5 62 344.5 62.5 348 65 350.5 70 350.5 73.5 348.5 78 346.5 80 344 81.5 340 82 335.5 80 332.5 75.5 332.5 70.5 334 67 337.5 63.5Z"/>
<path fill="#004eff" d="M135 0 135.5 3 138.5 6.5 159.5 24.5 165.5 29 171 31.5 173.5 34.5 173 37.5 171 41 163.5 51 157.5 61 154.5 70.5 154.5 79 156 84.5 158 88.5 169.5 105 174 115.5 175.5 125.5 175 138.5 173.5 149.5 174 164 177.5 175 181 182 188 192.5 197 202 209.5 210.5 214 215 216 221 216 226.5 217.5 237.5 221 245.5 223.5 249 228 253 233.5 256 255 262.5 271.5 270.5 277 274 280 277 281 279.5 280.5 289.5 417.5 289.5 415.5 284 407 274 404.5 270 404 267.5 406 263.5 420.5 249.5 424 245 436 225.5 440.5 216.5 443 209.5 444.5 202.5 444.5 190.5 441.5 176 441.5 168 446 156.5 455.5 140.5 463 125.5 467.5 112 469 104 468.5 85.5 466 77 462.5 71 458.5 67.5 452 65 441 62.5 426.5 60.5 412.5 56.5 384 40.5 374 36.5 357 31.5 343 31 330.5 33 318.5 33 318 32.5 292.5 32.5 272.5 30.5 250.5 26.5 247 26.5 231.5 24 210 19 205 16.5 199.5 11 196 6 194 2 194 0ZM343.5 59 347 60.5 350 63 352 66.5 353 72 352 76 348.5 81 345.5 83 340.5 84 335 82 332 79 330.5 75.5 330.5 70.5 333 64.5 337 60.5 341 59Z"/>
<path fill="#0054ff" d="M136.5 0 137 3 143 9 159.5 23 166.5 28 174 30 176.5 31.5 177.5 33 177.5 35.5 175.5 39.5 162.5 58.5 160 63.5 157.5 73 157.5 78 159.5 85.5 162 90.5 171.5 105 176 117 177 123 177 134.5 175 152.5 176 165 179 174.5 183.5 183.5 189.5 192.5 200 203 212 210.5 216 214.5 217.5 218.5 218.5 234.5 220.5 241 223.5 246 228 250.5 235 254.5 253 259.5 285 274 288.5 277 290 280 290 289.5 401.5 289.5 400 284.5 393 274.5 392.5 270.5 395.5 266.5 412.5 254 420 246.5 434.5 224 438 217 441 208.5 442.5 200 442.5 193.5 439 174 439.5 167.5 445 155 455.5 137.5 461.5 126 466 113.5 467.5 107 468 91 466.5 83 463 75.5 458 71 453 69 440.5 66 422 63.5 412 60.5 403.5 56 390.5 47 381 42 375 39.5 355.5 33.5 345 33 332.5 35.5 322.5 35.5 322 35 292.5 34.5 272 32 253 28 239.5 26.5 216.5 22.5 203.5 19.5 198 16.5 194.5 13 187.5 3.5 187 0ZM341.5 55.5 347.5 57 352 61 355 67.5 355 73.5 353 78.5 349 83 344 85.5 338.5 85.5 334 83.5 331 80.5 329 76.5 328.5 72 330 66 332.5 61.5 337 57Z"/>
<path fill="#005aff" d="M138 0 138.5 3 142.5 7 164 25 169.5 27.5 178 28.5 181.5 31.5 181.5 34.5 180 38 165 60.5 162.5 66 161 71.5 161 80.5 163 87 175.5 109.5 178 118 178.5 137 177 148.5 177.5 164 182.5 178.5 187.5 187.5 191.5 193 200.5 202 205.5 205.5 213.5 209.5 218 213.5 219.5 219 219.5 231 220.5 236 223.5 243 228.5 248.5 236.5 253 256 258.5 272 265.5 295 274 299 276.5 302 279.5 303.5 283 303.5 289.5 350 289.5 349 279.5 351.5 277 356 275 375 270.5 389 265 397 261 407.5 254.5 418.5 244.5 432 224 436 216 439 207 440 201.5 440 192 437 177 437 170 438.5 164 445.5 150 454 136.5 461.5 122.5 466 108.5 467 102 466.5 90 464 81.5 460 76.5 454 73.5 446 71 434.5 69 424.5 68.5 412.5 65.5 406.5 62.5 391 51 384.5 47 371 41 354 36 346 36 337 38.5 325.5 38.5 320 37.5 298.5 37 280 35 252 29 238.5 27.5 196.5 20.5 191 17.5 187 13.5 179.5 4 178.5 0ZM423.5 122.5 427.5 124.5 428.5 126.5 427.5 128.5 426 129 423 127 422 124ZM340 51.5 344.5 51.5 349 53.5 354 58.5 356.5 63.5 357.5 67.5 357.5 72.5 354.5 80 349.5 85 342.5 87.5 337.5 87 332.5 84.5 328.5 80 327 75.5 327.5 67.5 331.5 58.5 336 53.5Z"/>
<path fill="#0060ff" d="M139.5 0 139.5 1.5 143.5 6 164.5 23.5 169 25.5 180.5 25.5 183 26.5 185.5 29 186 32.5 185 35.5 168 61.5 166 66 164 73.5 164 80 166 87.5 176.5 107.5 180 119.5 180.5 133 178.5 153 179.5 165 181.5 172 187 184 196 196.5 206 204.5 216.5 209 220 212 221 214.5 221 230.5 222 235.5 224 240.5 229.5 247 236.5 251 257.5 257 270.5 262.5 282.5 266.5 305.5 272.5 322 274 322.5 273.5 333 273 347 270 366 267.5 379.5 264.5 393 259.5 402.5 254.5 409 250 416 243.5 428.5 225.5 433.5 216 436 209 437.5 202.5 437.5 191.5 435 179.5 434.5 171.5 436 164 439 156 439.5 152 438.5 150.5 432 150 428.5 149 421 144.5 414 137.5 402.5 121 390.5 110 389.5 108 389.5 105.5 392 102.5 398.5 99.5 403 98.5 408.5 98.5 412.5 99.5 417.5 102 433.5 113.5 443 123 448 131.5 449.5 133 451 133 454 130.5 458 125 462.5 115.5 465 106 465.5 95.5 464.5 89.5 463 85.5 459 81 452 77.5 441 74.5 422 74 413.5 72 405 67 388 53 377.5 47 361.5 42 356.5 41 350.5 41 347.5 43 347.5 44.5 353.5 51 357.5 57.5 360 66.5 359.5 74 355.5 82 349 87.5 344.5 89 337 88.5 330.5 85 327.5 81.5 325.5 77 325.5 68.5 326.5 64.5 333 49 333 46 330.5 43.5 325 41.5 317.5 40 296 39 280.5 37 248 29.5 241 29 216.5 25 190 23 186 21.5 180 16 169.5 4 168.5 0Z"/>
<path fill="#0066ff" d="M426 83.5 423.5 86 423 88 424.5 92.5 429.5 99.5 438 108 443 112 453.5 118.5 456.5 118.5 459 116 461 112 463 105 463 96 460.5 89.5 458 87 452 83.5 442 80.5 434 80.5 428.5 82ZM192.5 28 187.5 37.5 172 60.5 169 67 167 75 167.5 83 169.5 89.5 178 106.5 181.5 118 182 136.5 180.5 149 181 163.5 185 176.5 189.5 185.5 194.5 193 202 200.5 205.5 203 210.5 205.5 219.5 208 222 210 223 212.5 223 222.5 222.5 223 223 233 226 240.5 230 245 233.5 247.5 239 250 253 253.5 268.5 259.5 285 264.5 312.5 269.5 329 269.5 349.5 266 369.5 263.5 383.5 260 392.5 256.5 403.5 250.5 409.5 246 415.5 240 427.5 222.5 431.5 214.5 434.5 205 435 191.5 432 176 432 163.5 431 161.5 423 157 414 149 405.5 138 396.5 124 384.5 112 383.5 110 383 106 385 102 390 97.5 403.5 89.5 408.5 84.5 408.5 80.5 406 76 402 71 392 61 382 53.5 376 50.5 368.5 48.5 365 48.5 362.5 49.5 361 52.5 362.5 62 362.5 72.5 359.5 80 356.5 84 351 88.5 348 90 341 91 336 90 331 87.5 326 82.5 324.5 79.5 323.5 75.5 323.5 70 327 56 327 49.5 324.5 46 320.5 44 311.5 42 298.5 41.5 283 39.5 267.5 36 252.5 31.5 225 27.5 211 26 198.5 26ZM142 0 142.5 2 145.5 5 165 21 168.5 22.5 171.5 22 172.5 21 170.5 17 158.5 5 157 2.5 156.5 0Z"/>
<path fill="#006cff" d="M441.5 93.5 441.5 97 442.5 99 447 103 452 104 455 102 455.5 100 454 96 450 92.5 447 91.5 444 91.5ZM196.5 30 194.5 32 175.5 60.5 172.5 66.5 170 76 171 86 173 92 180 106.5 183.5 119 184 133 182.5 146.5 182.5 161 184 168.5 186.5 176 191 185.5 196 193 203 200 206 202 212.5 205 221 206 224 208 225.5 212 224 225 224.5 232.5 226.5 238 231 243.5 239 248 257.5 253 269 257.5 283 261.5 310.5 266 327.5 266.5 356 262 366.5 261 384.5 256.5 392 253.5 402 248 408 243.5 414.5 237 423 225 429.5 212.5 432.5 201 432 188.5 427.5 169.5 418.5 162.5 408 151.5 401.5 142.5 392 126.5 382.5 116.5 379.5 111.5 379 105.5 380.5 102 385 97 391 92.5 395.5 88 398.5 82 398 76.5 396 72.5 393.5 69 386.5 62 378 56.5 372.5 55 368.5 56 366.5 60 366.5 66 365.5 72.5 363 79 359.5 84 356 87.5 349.5 91.5 346 92.5 339 92.5 334 91 329.5 88.5 325 84 323 80.5 322 77.5 321.5 72 324 55.5 322.5 50.5 317.5 46.5 309 44.5 294.5 43.5 282 41.5 266.5 37.5 253 33 245 31.5 217 28 202 28Z"/>
<path fill="#0072ff" d="M196.5 35 184 52.5 177.5 63 174 71.5 173 77 173 82 174 87.5 176 93.5 182 106.5 185.5 120 185.5 137.5 184.5 144.5 185 164.5 186 169 191 182.5 197.5 193 203.5 199 209 202.5 214 204 222.5 204 226.5 207 227.5 210 227.5 215 226 222 226 232 228.5 238 232 242 241.5 247 255.5 250.5 271 256 280.5 258.5 314.5 263.5 329 263.5 349.5 260 369.5 257.5 385.5 253 398 247 407 240.5 412 235.5 420.5 224 427.5 210 429.5 202 429 187 428 182 425.5 176 415.5 167.5 404 155 396 143.5 388.5 130 385 125 379 118.5 375.5 112 375 106.5 377 101 388.5 89.5 391.5 84 392 81.5 391.5 77 389 72 383.5 66.5 379 64 377 63.5 374 64 372 66 366.5 79 363 84 358 89 354.5 91.5 349 94 340.5 94.5 334.5 93 329.5 90.5 322.5 83.5 320 77 320 67 321 63 321 57 319.5 53 314.5 49 306.5 47 298 46.5 285 44.5 270 40.5 251 34 227.5 30.5 217.5 29.5 206.5 29.5 200 31.5Z"/>
<path fill="#0078ff" d="M202.5 33.5 197 39.5 183 59.5 178.5 68 176 77 176 84 177 89 183.5 105 186 112.5 187.5 120.5 187.5 135.5 187 136 186.5 152.5 186 153 186.5 161.5 190 176 195 187 199 193 204.5 198.5 209.5 201.5 212.5 202.5 224 202.5 225.5 203 228 205.5 229.5 209.5 229.5 214.5 227.5 223 227.5 231 230 237 232 239.5 240 244.5 258.5 249.5 277 255.5 312.5 260.5 324 261 324.5 260.5 335 260 351 257 364.5 255.5 376 253 385 250 393.5 246 404 239 411.5 231.5 421 217.5 425.5 206.5 427 197.5 426 186 424 181 420.5 177.5 416.5 175 405 163.5 397.5 154.5 390.5 144 384 132 373.5 117 371.5 111 372 102 374.5 97.5 383 89.5 385.5 83.5 385 79.5 381.5 75 379.5 74 376 74.5 373.5 76.5 367.5 84.5 363 89 355 94.5 348.5 96.5 338.5 96 333.5 94.5 328.5 92 325 89.5 320.5 84 318.5 79 317.5 73 318 59 316.5 55.5 314 53 311 51.5 305.5 50 295 49 280.5 46 250.5 35.5 242.5 34 217.5 31 207 31.5Z"/>
<path fill="#007eff" d="M204.5 35.5 197.5 44 186.5 59.5 181 70 179 77.5 179.5 88.5 181 94 187.5 110.5 189.5 120.5 189.5 134 188.5 141.5 189 164.5 191 173.5 194 182 199 191 205 197.5 213 201.5 225 201 229.5 204.5 231 207.5 231.5 213 229 225 229 229.5 231.5 236 235 239.5 239 242 246 244.5 280 254 291 255.5 301.5 256 314.5 258 329 258 356 253.5 362.5 253 379 249 385.5 246.5 395 241.5 402 236.5 410 228.5 417.5 217.5 420.5 211.5 423.5 201 423.5 189.5 422.5 185.5 418.5 181 414 178.5 402 166.5 395 158.5 388 149 377 130 372.5 123.5 369.5 117.5 367 109 366.5 99 365.5 96.5 362.5 96 353.5 98.5 344 99 335 97 325 92 320 87 316.5 80 315.5 75.5 315.5 66 314.5 60 311 56 307 54 284.5 50 269.5 45 254 38.5 242 35.5 224 33 210 33Z"/>
<path fill="#0085ff" d="M207.5 36.5 203.5 41 188.5 62 185 68.5 182 78 182.5 90.5 189 108 191.5 119.5 191.5 133 190.5 140.5 191 164 194.5 179 197.5 186 202.5 193.5 207.5 198 211.5 200 217 200.5 221 199.5 225 199.5 229 201.5 231.5 204.5 233 208.5 233 215.5 231 223.5 231 230 232.5 234 235 237 238.5 239.5 243 241.5 276 251 288.5 253 300.5 253.5 315.5 255.5 327.5 255.5 363.5 250 378.5 246 393 239 400.5 233.5 407 227 413.5 218 417.5 210 419.5 204 420.5 198.5 420.5 191.5 419.5 187.5 417.5 185 411.5 181.5 406.5 177 393 162.5 384.5 152 370.5 129 366.5 121 362 108 358.5 103.5 353.5 102 348.5 102 339.5 100.5 331 97.5 325 94.5 321 91.5 317.5 87.5 315 83 313 76 311.5 64.5 310 61.5 308 59.5 304 57.5 283 53 270 48 253.5 40.5 245.5 38 223 34.5 212.5 34.5Z"/>
<path fill="#008bff" d="M209.5 38 207 40.5 203 47.5 191.5 63 187.5 70.5 185 78.5 184.5 85 185.5 92 191 107 193.5 118 193.5 133 192.5 140.5 193 163 195 174.5 197.5 182.5 200.5 188.5 204.5 194 208 197 212 199 226.5 198.5 230 200.5 233 204 235 210 235 214.5 233 223 233 229.5 234.5 233 236.5 235.5 243.5 239.5 251 242 279 249.5 291.5 251 304 251.5 309.5 252.5 315.5 252.5 316 253 326 253 359 248 376.5 243.5 386.5 239 397 232 405 224 410 217 414 209.5 417 198.5 416.5 190.5 414.5 187.5 408 183.5 385.5 160 376.5 149 369.5 137.5 363 124 359 113.5 355.5 108.5 350 105.5 341 103.5 331.5 100 324 96.5 319 93 315 88.5 312.5 84 309.5 75 309 71.5 306.5 66 304 63.5 301 62 284 57.5 252 42.5 244.5 40 230.5 37 220.5 36 212.5 36.5Z"/>
<path fill="#0091ff" d="M210.5 40 207.5 44 203.5 52 197 60.5 191.5 69.5 188.5 77.5 187.5 83.5 188 91 194 109 195.5 115.5 196 126.5 194.5 142 194.5 153.5 196.5 172.5 200 184.5 204 191.5 208 195.5 213 198 218.5 198 221.5 197 227.5 197.5 231.5 200 234.5 203.5 236.5 209 236.5 217.5 235 224 235 228 236 231 239 234.5 245.5 238 253 240.5 279.5 247.5 287.5 248.5 302.5 249 308.5 250 315 250 315.5 250.5 325.5 250.5 355 246 374.5 241 386 235.5 392 231.5 402 222 407 215 411 207 413 200.5 413.5 196.5 413 192.5 410 189 406.5 187 372.5 152 366.5 143 362.5 135 355.5 117.5 353 113.5 350.5 111 346.5 108.5 326.5 100.5 317 95 312 89.5 308 82 305.5 75.5 304 73 300 69 297 67.5 286.5 64.5 264.5 52 250.5 45 239.5 41 224.5 38 215.5 38Z"/>
<path fill="#0097ff" d="M212.5 41.5 209.5 45 203.5 57.5 195.5 69 192.5 75.5 191 81 190.5 86 191 91.5 196 107 198 116 198 130 197 136.5 197 155.5 197.5 156 198.5 172 200.5 181.5 202.5 186.5 208 194 214 197 226.5 196 231 198 235.5 202.5 237 205 238.5 210 238.5 218 237.5 222.5 237.5 226.5 239 230.5 242 233.5 248 236.5 258.5 240 277 245 290 246.5 325 248 351 244 366.5 240.5 372.5 238.5 386 231.5 392.5 226.5 398.5 220.5 406.5 208 409 200.5 409 194.5 405 190 399 185 392.5 177 385 169.5 373.5 160.5 366 152.5 362 146.5 358.5 139.5 353 124.5 350 118.5 345 113 339.5 109.5 317 99 309 91.5 302 81 298 77.5 282.5 72 267.5 59 250 49 240 44 231 41 225 40 216.5 40Z"/>
<path fill="#009dff" d="M212.5 44.5 209.5 50 205 61 201 66.5 196 76 194 83.5 194.5 94 199 108 200.5 115.5 200.5 127.5 199 139.5 199 149.5 200.5 161 201 175.5 204 186 207 191 209.5 193.5 213 195.5 227 195 232.5 197.5 236.5 201.5 239.5 207 240.5 211 240.5 226 243.5 231 252 235.5 264 239.5 278 243 285.5 244 296.5 244 297 244.5 305.5 244.5 313 245.5 324.5 245.5 333.5 244.5 354.5 240.5 370.5 236 383.5 229 387.5 226 396 217.5 400.5 211 404 203.5 405 199 404 195 395 186 384.5 174 370 164 361 155.5 357 150 353 142 348 127.5 344.5 120.5 339.5 115 333 110.5 314 101.5 310 98.5 299.5 88 296.5 86 292 84 282.5 81.5 277 78.5 262.5 64 248 55.5 240 48.5 235.5 45.5 231 43.5 223.5 42 216 42.5Z"/>
<path fill="#00a3ff" d="M215.5 45.5 212 49.5 208.5 60.5 199.5 77 197.5 83.5 197.5 93.5 201 105 203 114.5 203 126.5 201.5 137 201.5 149.5 203 158.5 203 174.5 204 181 205.5 185.5 208.5 190.5 213 194 217.5 194.5 225.5 193.5 229.5 194.5 234.5 197.5 238 201 240.5 205 242.5 211.5 243.5 224.5 245 227.5 248 230.5 257.5 235 278.5 241 289.5 241.5 290 242 305 242 312.5 243 324 243 335.5 241.5 357 237 367 234 378 228.5 386.5 222 393 215 397 209 400 202 400 198 398 194.5 381.5 177 362 164.5 353 155.5 347.5 146.5 342 130 337.5 121.5 331.5 115.5 327 112.5 311.5 105 296.5 94 290.5 91 279.5 87.5 272.5 84 264.5 78 254.5 72 245 69.5 239.5 67 236 63.5 235.5 62 235 51.5 233.5 49 231 47 228 45.5 223 44.5 219.5 44.5Z"/>
<path fill="#00a9ff" d="M215.5 49.5 213 53.5 209.5 66 204.5 75 201 85.5 201 94 205 109 206 118 205.5 127 204 136.5 204 148 206 159 205.5 178 207 184.5 209.5 189 212 191.5 215.5 193 226.5 192.5 230 193.5 234.5 196 239 200 243 206.5 244.5 211 246 221.5 247.5 225 249.5 227.5 253 230 260.5 233.5 271 237 280 239 322.5 240.5 339.5 238 356.5 234 367 230.5 377.5 224.5 387 216 392.5 208.5 395 203 394.5 197.5 388.5 190 380.5 182 375 178 357 167.5 347 159 342.5 153 340 148 335 132.5 331.5 125.5 325 118.5 290.5 98 274.5 92 259 84.5 242 79 237 76.5 231.5 71.5 228.5 66 228 60.5 229 56.5 229 52.5 228 50.5 223.5 48 218.5 48Z"/>
<path fill="#00afff" d="M216 56.5 212 69.5 207 79.5 205 86 205 95.5 208.5 112.5 208.5 124 206.5 138.5 207 149 209 157 208 180 209.5 185.5 213 190 217.5 191.5 219.5 191 227.5 191.5 236 195.5 241 200 243.5 203.5 247 212 249 220.5 251 224 253.5 226.5 263.5 232 279 236.5 307.5 237 308 237.5 320 238 340 235 355.5 231 364 228 372.5 223.5 383 214.5 388 208 390 203.5 390 199.5 388.5 196.5 382 189.5 374 183 351 170 343 164.5 336.5 158 332 150 328 138 324.5 130.5 319 123.5 305.5 114 286.5 103 260.5 92.5 246 88.5 236 84.5 233 82.5 227.5 77 224.5 72.5 222 65 222 58.5 221 55 218 54.5Z"/>
<path fill="#00b6ff" d="M213.5 77.5 210.5 83 209 89 209 96.5 211.5 111.5 211.5 123 209.5 137.5 209.5 144.5 213 158 213 163 210.5 173.5 211 183 213 187 216 189 227 190 231.5 191.5 239 196 245 202.5 247.5 207 252.5 220 257.5 225.5 264.5 229.5 278.5 234 282.5 234.5 306 234 312 235 327.5 234.5 345.5 230.5 362 225 371.5 219.5 378 214 382 209.5 385 204.5 385 200.5 383.5 197.5 375.5 190 369 185.5 342 171 335 166.5 329 160.5 326 156 321.5 147 320 142.5 314.5 132.5 303.5 121.5 290.5 112.5 276.5 105 261 99 243 94.5 234 91 229.5 88 218 75.5 215.5 75.5Z"/>
<path fill="#00bcff" d="M215 89 213.5 94 213.5 100.5 214.5 107 214.5 124 213 134.5 213 144 217 156 217.5 161 213.5 174 213 177.5 213.5 182 215 185 217.5 187 230 189.5 236.5 192.5 241.5 196 245 199.5 248.5 204.5 255 218 261 224 267 227.5 279.5 231.5 291.5 231.5 292 231 302 230.5 312 232 323.5 232 340.5 228.5 358.5 222.5 370.5 215.5 378 208.5 380 205 380 201.5 375.5 196 362.5 187 333 172 328 168.5 319 159 308 140.5 303 133.5 292.5 123 285.5 117.5 276 111.5 266.5 107 257.5 104 240 100 234.5 98 228 94.5 219 87.5 216.5 87.5Z"/>
<path fill="#00c2ff" d="M219.5 100 218.5 102.5 218 107.5 218 122.5 217.5 123 216.5 138.5 218 147 221.5 156 221.5 163 216.5 176 217 181.5 219.5 184.5 231.5 188.5 238.5 192 243.5 195.5 250.5 203.5 258 216.5 262.5 221 269 225 279.5 228.5 289.5 228.5 297 227 304 227 315.5 229 325 228.5 340.5 225 356.5 219.5 367.5 213.5 373.5 208 374.5 206 374.5 202.5 368.5 196.5 349.5 185 330 176 319.5 169 306 155 291 134.5 285 127.5 273.5 117.5 264.5 112.5 257.5 110 238 105.5 223.5 99 220.5 99Z"/>
<path fill="#00c8ff" d="M224 109 222.5 112 221.5 119 221 140.5 225.5 155 225.5 162.5 220.5 175.5 221 180.5 224 183.5 240 191 244.5 194 251.5 201 260 213.5 265 218.5 273 223 279.5 225 288 225 297 223 304.5 223 313.5 225 324 225 342 221 354.5 217 363.5 212.5 368 208.5 369 206.5 369 204 364 199 348.5 189.5 319 175.5 305.5 166 296.5 158.5 286 147 274.5 129 267 121.5 259 117 254.5 115.5 240.5 112.5 229.5 108.5 226 108Z"/>
<path fill="#00ceff" d="M227 118.5 225.5 123.5 225 136.5 229 153 229.5 159.5 228.5 165 225 173.5 224.5 176.5 225 179 228.5 183 231.5 185 242 190 246.5 193 252 198 261.5 210 269.5 217 274.5 219.5 280 221 287 221 298.5 218.5 306.5 219 315.5 221 324.5 221 335 219.5 348 216.5 357 213 362.5 208.5 363 205.5 360 202 347.5 194 337 188.5 320.5 182 306.5 175 288.5 165 281 160 277 156 274 151.5 268 137.5 264 131 257.5 125 252 122.5 232 116.5 229.5 116.5Z"/>
<path fill="#00d4ff" d="M231 128 230 131.5 230 138.5 232.5 151 233 159 232 165 229 174 229.5 179 232.5 182.5 244.5 189 249.5 192.5 267.5 210.5 271 213 276.5 215.5 281 216.5 286 216.5 296 214.5 305 214.5 316 217 328 217.5 346 214.5 352.5 212 356.5 208.5 356 206 353 203 334 192 313 184.5 294.5 176.5 281.5 172 272.5 167.5 265.5 160.5 261.5 153 256 140 254 137 249.5 132.5 236.5 126 233 126Z"/>
<path fill="#00daff" d="M237.5 139 236 143.5 236.5 159.5 233.5 172.5 233.5 177 236.5 181.5 252.5 191.5 266.5 204.5 271.5 208 275.5 210 281.5 211.5 287.5 211.5 292.5 210.5 303 210.5 320.5 214.5 334.5 214.5 346 211.5 349 209 349 207.5 347 205 332.5 196.5 283.5 180.5 275 176.5 267.5 171 263 166.5 246.5 144 241.5 139.5Z"/>
<path fill="#00e0fb" d="M242 152 240.5 156 238 172 239 177.5 242 181 253.5 188.5 265.5 198.5 273 203.5 278 205.5 284 206.5 289 206 300.5 206.5 314 210.5 322 212 333 212 338 210.5 340 208.5 338 205.5 330 201 317 196.5 294.5 190.5 286 187.5 280 184.5 266 173.5 247 153 244.5 151.5Z"/>
<path fill="#01e7f6" d="M302 200.5 303.5 202 308.5 204.5 315.5 207 321 208 325 207 324.5 206 316 202.5 307 200.5ZM245 160.5 243.5 165.5 243.5 174 246.5 179 266.5 194 275.5 199 281.5 200.5 286.5 200.5 292.5 199 292.5 198 291 196.5 282.5 191 275 185 250.5 161 247.5 159.5Z"/>
<path fill="#06edf1" d="M250.5 168 249.5 169.5 249.5 171 251.5 176 256.5 181 262 185 268.5 188.5 271 189 271.5 188 270.5 186 266.5 181 256 170.5 252.5 168Z"/>
</g>
<g shape-rendering="crispEdges">
<rect x="145.38" y="32.38" width="4.67" height="4.67" fill="#00bdff"/>
<rect x="150" y="27.76" width="4.67" height="4.67" fill="#00b5ff"/>
<rect x="150" y="32.38" width="4.67" height="4.67" fill="#00b5ff"/>
<rect x="154.62" y="27.76" width="4.67" height="4.67" fill="#00b6ff"/>
<rect x="159.23" y="27.76" width="4.67" height="4.67" fill="#00b8ff"/>
<rect x="163.85" y="27.76" width="4.67" height="4.67" fill="#00b9ff"/>
<rect x="168.46" y="23.15" width="4.67" height="4.67" fill="#00baff"/>
<rect x="168.46" y="27.76" width="4.67" height="4.67" fill="#00baff"/>
<rect x="173.08" y="23.15" width="4.67" height="4.67" fill="#00bbff"/>
<rect x="173.08" y="27.76" width="4.67" height="4.67" fill="#00bbff"/>
<rect x="177.69" y="23.15" width="4.67" height="4.67" fill="#00bcff"/>
<rect x="177.69" y="27.76" width="4.67" height="4.67" fill="#00bcff"/>
<rect x="182.31" y="23.15" width="4.67" height="4.67" fill="#00beff"/>
<rect x="182.31" y="27.76" width="4.67" height="4.67" fill="#00beff"/>
<rect x="186.92" y="23.15" width="4.67" height="4.67" fill="#00bfff"/>
<rect x="186.92" y="27.76" width="4.67" height="4.67" fill="#00bfff"/>
<rect x="191.54" y="23.15" width="4.67" height="4.67" fill="#00c1ff"/>
<rect x="191.54" y="27.76" width="4.67" height="4.67" fill="#00c1ff"/>
<rect x="196.15" y="23.15" width="4.67" height="4.67" fill="#00c3ff"/>
<rect x="196.15" y="27.76" width="4.67" height="4.67" fill="#00c4ff"/>
<rect x="200.77" y="27.76" width="4.67" height="4.67" fill="#00c7ff"/>
<rect x="200.77" y="32.38" width="4.67" height="4.67" fill="#008aff"/>
<rect x="205.38" y="27.76" width="4.67" height="4.67" fill="#1fffd8"/>
<rect x="205.38" y="32.38" width="4.67" height="4.67" fill="#57ffa0"/>
<rect x="205.38" y="36.99" width="4.67" height="4.67" fill="#87ff70"/>
<rect x="205.38" y="41.61" width="4.67" height="4.67" fill="#a0ff57"/>
<rect x="205.38" y="46.22" width="4.67" height="4.67" fill="#00b9ff"/>
<rect x="205.38" y="50.84" width="4.67" height="4.67" fill="#d7ff20"/>
<rect x="205.38" y="55.45" width="4.67" height="4.67" fill="#2effc9"/>
<rect x="210" y="36.99" width="4.67" height="4.67" fill="#8dff6a"/>
<rect x="210" y="41.61" width="4.67" height="4.67" fill="#a3ff54"/>
<rect x="210" y="46.22" width="4.67" height="4.67" fill="#bcff3b"/>
<rect x="210" y="50.84" width="4.67" height="4.67" fill="#daff1c"/>
<rect x="210" y="55.45" width="4.67" height="4.67" fill="#ffea00"/>
<rect x="210" y="60.07" width="4.67" height="4.67" fill="#ffc100"/>
<rect x="210" y="64.68" width="4.67" height="4.67" fill="#ff9800"/>
<rect x="210" y="69.3" width="4.67" height="4.67" fill="#ff7600"/>
<rect x="210" y="73.92" width="4.67" height="4.67" fill="#ff6400"/>
<rect x="210" y="78.53" width="4.67" height="4.67" fill="#77ff80"/>
<rect x="210" y="83.15" width="4.67" height="4.67" fill="#8dff6a"/>
<rect x="214.62" y="55.45" width="4.67" height="4.67" fill="#ffe600"/>
<rect x="214.62" y="60.07" width="4.67" height="4.67" fill="#ffbd00"/>
<rect x="214.62" y="69.3" width="4.67" height="4.67" fill="#ff7300"/>
<rect x="214.62" y="73.92" width="4.67" height="4.67" fill="#ff6000"/>
<rect x="214.62" y="78.53" width="4.67" height="4.67" fill="#ff4e00"/>
<rect x="214.62" y="83.15" width="4.67" height="4.67" fill="#ff4000"/>
<rect x="214.62" y="87.76" width="4.67" height="4.67" fill="#ff3a00"/>
<rect x="214.62" y="92.38" width="4.67" height="4.67" fill="#ff3500"/>
<rect x="214.62" y="96.99" width="4.67" height="4.67" fill="#ff2f00"/>
<rect x="219.23" y="87.76" width="4.67" height="4.67" fill="#ff3900"/>
<rect x="219.23" y="92.38" width="4.67" height="4.67" fill="#ff3300"/>
<rect x="219.23" y="96.99" width="4.67" height="4.67" fill="#ff2e00"/>
<rect x="219.23" y="101.61" width="4.67" height="4.67" fill="#ff2800"/>
<rect x="219.23" y="106.22" width="4.67" height="4.67" fill="#ff2300"/>
<rect x="219.23" y="110.84" width="4.67" height="4.67" fill="#82ff75"/>
<rect x="223.85" y="101.61" width="4.67" height="4.67" fill="#dbff1c"/>
<rect x="223.85" y="106.22" width="4.67" height="4.67" fill="#ff2100"/>
<rect x="223.85" y="110.84" width="4.67" height="4.67" fill="#ff1c00"/>
<rect x="223.85" y="115.45" width="4.67" height="4.67" fill="#ff1a00"/>
<rect x="223.85" y="120.07" width="4.67" height="4.67" fill="#cbff2c"/>
<rect x="228.46" y="115.45" width="4.67" height="4.67" fill="#ff1800"/>
<rect x="228.46" y="120.07" width="4.67" height="4.67" fill="#ff1600"/>
<rect x="228.46" y="124.68" width="4.67" height="4.67" fill="#ff1400"/>
<rect x="228.46" y="129.3" width="4.67" height="4.67" fill="#e9ff0e"/>
<rect x="233.08" y="124.68" width="4.67" height="4.67" fill="#5aff9d"/>
<rect x="233.08" y="129.3" width="4.67" height="4.67" fill="#fb1000"/>
<rect x="233.08" y="133.92" width="4.67" height="4.67" fill="#f90e00"/>
<rect x="233.08" y="138.53" width="4.67" height="4.67" fill="#f60b00"/>
<rect x="237.69" y="133.92" width="4.67" height="4.67" fill="#f70c00"/>
<rect x="237.69" y="138.53" width="4.67" height="4.67" fill="#f40a00"/>
<rect x="237.69" y="143.15" width="4.67" height="4.67" fill="#f10800"/>
<rect x="242.31" y="143.15" width="4.67" height="4.67" fill="#f00600"/>
<rect x="242.31" y="147.76" width="4.67" height="4.67" fill="#ed0400"/>
<rect x="242.31" y="152.38" width="4.67" height="4.67" fill="#ea0200"/>
<rect x="246.92" y="147.76" width="4.67" height="4.67" fill="#e4ff13"/>
<rect x="246.92" y="152.38" width="4.67" height="4.67" fill="#e90100"/>
<rect x="246.92" y="156.99" width="4.67" height="4.67" fill="#e60000"/>
<rect x="251.54" y="156.99" width="4.67" height="4.67" fill="#e40000"/>
<rect x="251.54" y="161.61" width="4.67" height="4.67" fill="#e20000"/>
<rect x="251.54" y="166.22" width="4.67" height="4.67" fill="#d5ff22"/>
<rect x="256.15" y="161.61" width="4.67" height="4.67" fill="#e00000"/>
<rect x="256.15" y="166.22" width="4.67" height="4.67" fill="#dd0000"/>
<rect x="256.15" y="170.84" width="4.67" height="4.67" fill="#ffec00"/>
<rect x="260.77" y="166.22" width="4.67" height="4.67" fill="#f9f300"/>
<rect x="260.77" y="170.84" width="4.67" height="4.67" fill="#d70000"/>
<rect x="260.77" y="175.45" width="4.67" height="4.67" fill="#d30000"/>
<rect x="265.38" y="170.84" width="4.67" height="4.67" fill="#d40000"/>
<rect x="265.38" y="175.45" width="4.67" height="4.67" fill="#d00000"/>
<rect x="270" y="175.45" width="4.67" height="4.67" fill="#cd0000"/>
<rect x="270" y="180.07" width="4.67" height="4.67" fill="#c90000"/>
<rect x="270" y="184.68" width="4.67" height="4.67" fill="#c60000"/>
<rect x="274.62" y="180.07" width="4.67" height="4.67" fill="#c1ff36"/>
<rect x="274.62" y="184.68" width="4.67" height="4.67" fill="#c20000"/>
<rect x="274.62" y="189.3" width="4.67" height="4.67" fill="#bf0000"/>
<rect x="279.23" y="184.68" width="4.67" height="4.67" fill="#2dffca"/>
<rect x="279.23" y="189.3" width="4.67" height="4.67" fill="#bb0000"/>
<rect x="279.23" y="193.92" width="4.67" height="4.67" fill="#ffb400"/>
<rect x="283.85" y="193.92" width="4.67" height="4.67" fill="#b80000"/>
<rect x="288.46" y="193.92" width="4.67" height="4.67" fill="#b60000"/>
<rect x="288.46" y="198.53" width="4.67" height="4.67" fill="#b50000"/>
<rect x="293.08" y="198.53" width="4.67" height="4.67" fill="#b40000"/>
<rect x="293.08" y="203.15" width="4.67" height="4.67" fill="#b30000"/>
<rect x="297.69" y="198.53" width="4.67" height="4.67" fill="#45ffb2"/>
<rect x="297.69" y="203.15" width="4.67" height="4.67" fill="#b20000"/>
<rect x="302.31" y="203.15" width="4.67" height="4.67" fill="#b00000"/>
<rect x="306.92" y="203.15" width="4.67" height="4.67" fill="#c2ff35"/>
<rect x="306.92" y="207.76" width="4.67" height="4.67" fill="#ae0000"/>
<rect x="311.54" y="207.76" width="4.67" height="4.67" fill="#ae0000"/>
<rect x="311.54" y="212.38" width="4.67" height="4.67" fill="#c3ff34"/>
<rect x="316.15" y="207.76" width="4.67" height="4.67" fill="#ae0000"/>
<rect x="316.15" y="212.38" width="4.67" height="4.67" fill="#ae0000"/>
<rect x="320.77" y="207.76" width="4.67" height="4.67" fill="#3fffb8"/>
<rect x="320.77" y="212.38" width="4.67" height="4.67" fill="#ae0000"/>
<rect x="325.38" y="212.38" width="4.67" height="4.67" fill="#b00000"/>
<rect x="325.38" y="216.99" width="4.67" height="4.67" fill="#82ff75"/>
<rect x="330" y="212.38" width="4.67" height="4.67" fill="#b30000"/>
<rect x="334.62" y="212.38" width="4.67" height="4.67" fill="#b70000"/>
<rect x="339.23" y="212.38" width="4.67" height="4.67" fill="#bb0000"/>
<rect x="339.23" y="216.99" width="4.67" height="4.67" fill="#d9ff1d"/>
<rect x="343.85" y="212.38" width="4.67" height="4.67" fill="#c50000"/>
<rect x="348.46" y="212.38" width="4.67" height="4.67" fill="#cf0000"/>
<rect x="348.46" y="216.99" width="4.67" height="4.67" fill="#ce0000"/>
<rect x="353.08" y="207.76" width="4.67" height="4.67" fill="#e6ff11"/>
<rect x="353.08" y="212.38" width="4.67" height="4.67" fill="#d90000"/>
<rect x="357.69" y="207.76" width="4.67" height="4.67" fill="#ef0600"/>
<rect x="357.69" y="212.38" width="4.67" height="4.67" fill="#ea0200"/>
<rect x="362.31" y="207.76" width="4.67" height="4.67" fill="#20ffd7"/>
<rect x="362.31" y="212.38" width="4.67" height="4.67" fill="#ff1300"/>
<rect x="366.92" y="207.76" width="4.67" height="4.67" fill="#ff2900"/>
<rect x="366.92" y="212.38" width="4.67" height="4.67" fill="#40ffb6"/>
<rect x="371.54" y="203.15" width="4.67" height="4.67" fill="#9dff5a"/>
<rect x="371.54" y="207.76" width="4.67" height="4.67" fill="#ff3a00"/>
<rect x="376.15" y="207.76" width="4.67" height="4.67" fill="#ff5000"/>
<rect x="380.77" y="203.15" width="4.67" height="4.67" fill="#ff6f00"/>
<rect x="380.77" y="207.76" width="4.67" height="4.67" fill="#5dff99"/>
<rect x="385.38" y="198.53" width="4.67" height="4.67" fill="#ff9000"/>
<rect x="385.38" y="203.15" width="4.67" height="4.67" fill="#ff8500"/>
<rect x="390" y="198.53" width="4.67" height="4.67" fill="#ffa600"/>
<rect x="394.62" y="193.92" width="4.67" height="4.67" fill="#ffc900"/>
<rect x="394.62" y="198.53" width="4.67" height="4.67" fill="#ffbd00"/>
<rect x="399.23" y="189.3" width="4.67" height="4.67" fill="#feed00"/>
<rect x="399.23" y="193.92" width="4.67" height="4.67" fill="#ffdf00"/>
<rect x="403.85" y="189.3" width="4.67" height="4.67" fill="#ecff0a"/>
<rect x="403.85" y="193.92" width="4.67" height="4.67" fill="#f9f400"/>
<rect x="408.46" y="184.68" width="4.67" height="4.67" fill="#d3ff24"/>
<rect x="408.46" y="189.3" width="4.67" height="4.67" fill="#deff19"/>
<rect x="413.08" y="180.07" width="4.67" height="4.67" fill="#11fbe5"/>
<rect x="413.08" y="184.68" width="4.67" height="4.67" fill="#c4ff32"/>
<rect x="417.69" y="175.45" width="4.67" height="4.67" fill="#08efef"/>
<rect x="417.69" y="180.07" width="4.67" height="4.67" fill="#aaff4c"/>
<rect x="417.69" y="184.68" width="4.67" height="4.67" fill="#b6ff41"/>
<rect x="422.31" y="175.45" width="4.67" height="4.67" fill="#94ff62"/>
<rect x="422.31" y="180.07" width="4.67" height="4.67" fill="#02e8f5"/>
<rect x="426.92" y="170.84" width="4.67" height="4.67" fill="#80ff77"/>
<rect x="426.92" y="175.45" width="4.67" height="4.67" fill="#8aff6d"/>
<rect x="431.54" y="166.22" width="4.67" height="4.67" fill="#6bff8c"/>
<rect x="431.54" y="170.84" width="4.67" height="4.67" fill="#00c8ff"/>
<rect x="436.15" y="156.99" width="4.67" height="4.67" fill="#00bbff"/>
<rect x="436.15" y="161.61" width="4.67" height="4.67" fill="#59ff9e"/>
<rect x="436.15" y="166.22" width="4.67" height="4.67" fill="#16ffe1"/>
<rect x="440.77" y="27.76" width="4.67" height="4.67" fill="#00bdff"/>
<rect x="440.77" y="32.38" width="4.67" height="4.67" fill="#00c8ff"/>
<rect x="440.77" y="36.99" width="4.67" height="4.67" fill="#00d2ff"/>
<rect x="440.77" y="152.38" width="4.67" height="4.67" fill="#008cff"/>
<rect x="440.77" y="156.99" width="4.67" height="4.67" fill="#46ffb0"/>
<rect x="440.77" y="161.61" width="4.67" height="4.67" fill="#0087ff"/>
<rect x="445.38" y="27.76" width="4.67" height="4.67" fill="#00b5ff"/>
<rect x="445.38" y="32.38" width="4.67" height="4.67" fill="#00b3ff"/>
<rect x="445.38" y="36.99" width="4.67" height="4.67" fill="#00d7ff"/>
<rect x="445.38" y="147.76" width="4.67" height="4.67" fill="#2fffc8"/>
<rect x="445.38" y="152.38" width="4.67" height="4.67" fill="#36ffc1"/>
<rect x="445.38" y="156.99" width="4.67" height="4.67" fill="#0074ff"/>
<rect x="450" y="32.38" width="4.67" height="4.67" fill="#0061ff"/>
<rect x="450" y="36.99" width="4.67" height="4.67" fill="#006cff"/>
<rect x="450" y="41.61" width="4.67" height="4.67" fill="#00e2fa"/>
<rect x="450" y="46.22" width="4.67" height="4.67" fill="#01e7f6"/>
<rect x="450" y="143.15" width="4.67" height="4.67" fill="#22ffd5"/>
<rect x="450" y="147.76" width="4.67" height="4.67" fill="#29ffcd"/>
<rect x="450" y="152.38" width="4.67" height="4.67" fill="#31ffc6"/>
<rect x="454.62" y="41.61" width="4.67" height="4.67" fill="#0062ff"/>
<rect x="454.62" y="46.22" width="4.67" height="4.67" fill="#02e9f4"/>
<rect x="454.62" y="50.84" width="4.67" height="4.67" fill="#05ebf2"/>
<rect x="454.62" y="55.45" width="4.67" height="4.67" fill="#07eef0"/>
<rect x="454.62" y="129.3" width="4.67" height="4.67" fill="#0069ff"/>
<rect x="454.62" y="133.92" width="4.67" height="4.67" fill="#16ffe1"/>
<rect x="454.62" y="138.53" width="4.67" height="4.67" fill="#18ffdf"/>
<rect x="454.62" y="143.15" width="4.67" height="4.67" fill="#0080ff"/>
<rect x="459.23" y="50.84" width="4.67" height="4.67" fill="#06edf1"/>
<rect x="459.23" y="55.45" width="4.67" height="4.67" fill="#08f0ee"/>
<rect x="459.23" y="60.07" width="4.67" height="4.67" fill="#0af1ed"/>
<rect x="459.23" y="120.07" width="4.67" height="4.67" fill="#00baff"/>
<rect x="459.23" y="124.68" width="4.67" height="4.67" fill="#10fae6"/>
<rect x="459.23" y="129.3" width="4.67" height="4.67" fill="#13fde4"/>
<rect x="459.23" y="133.92" width="4.67" height="4.67" fill="#15ffe2"/>
<rect x="459.23" y="138.53" width="4.67" height="4.67" fill="#17ffe0"/>
<rect x="463.85" y="55.45" width="4.67" height="4.67" fill="#0078ff"/>
<rect x="463.85" y="60.07" width="4.67" height="4.67" fill="#0af2ed"/>
<rect x="463.85" y="64.68" width="4.67" height="4.67" fill="#0bf4eb"/>
<rect x="463.85" y="69.3" width="4.67" height="4.67" fill="#0df5ea"/>
<rect x="463.85" y="73.92" width="4.67" height="4.67" fill="#007fff"/>
<rect x="463.85" y="83.15" width="4.67" height="4.67" fill="#10fae6"/>
<rect x="463.85" y="87.76" width="4.67" height="4.67" fill="#0088ff"/>
<rect x="463.85" y="92.38" width="4.67" height="4.67" fill="#007eff"/>
<rect x="463.85" y="96.99" width="4.67" height="4.67" fill="#0091ff"/>
<rect x="463.85" y="101.61" width="4.67" height="4.67" fill="#00bbff"/>
<rect x="463.85" y="106.22" width="4.67" height="4.67" fill="#00bcff"/>
<rect x="463.85" y="110.84" width="4.67" height="4.67" fill="#10fae6"/>
<rect x="463.85" y="115.45" width="4.67" height="4.67" fill="#10fae6"/>
<rect x="463.85" y="120.07" width="4.67" height="4.67" fill="#10fae6"/>
<rect x="463.85" y="124.68" width="4.67" height="4.67" fill="#00a1ff"/>
<rect x="463.85" y="129.3" width="4.67" height="4.67" fill="#00acff"/>
<rect x="468.46" y="69.3" width="4.67" height="4.67" fill="#0079ff"/>
<rect x="468.46" y="73.92" width="4.67" height="4.67" fill="#0ef7e9"/>
<rect x="468.46" y="78.53" width="4.67" height="4.67" fill="#10f9e7"/>
<rect x="468.46" y="83.15" width="4.67" height="4.67" fill="#10fae6"/>
<rect x="468.46" y="87.76" width="4.67" height="4.67" fill="#10fae6"/>
<rect x="468.46" y="92.38" width="4.67" height="4.67" fill="#10fae6"/>
<rect x="468.46" y="96.99" width="4.67" height="4.67" fill="#10fae6"/>
<rect x="468.46" y="101.61" width="4.67" height="4.67" fill="#10fae6"/>
<rect x="468.46" y="106.22" width="4.67" height="4.67" fill="#10fae6"/>
<rect x="468.46" y="110.84" width="4.67" height="4.67" fill="#10fae6"/>
</g>
<path fill="none" stroke="#b9b9bc" stroke-opacity="0.85" stroke-width="1.8" d="M244.2 274.5 245 274.1 244 273.5 227.4 267.3 215.1 261.7 204.9 256 195.5 249.8 186.1 242.5 177.4 234.4 169.4 225.5 162.4 216.2 156.3 206.2 151.1 195.5 147.1 184.5 144.3 173.3 142.7 162 142.1 150.6 142.8 138.7 144.7 127.3 147.8 115.5 152 104.3 157.4 93.3 163.7 83 171.1 72.9 179.4 63.5 188.8 54.5 198.9 46.3 210.4 38.6 222 32 234.3 26.2 247.3 21.2 261.1 17.1 275.6 14 289.1 12.4 300 12.3 M244.1 274.5 226 270.6 210.1 266.2 194.8 260.9 179.6 254.4 165.3 247 152.7 239.1 140.6 230 130.1 220.5 120.8 210.2 113 199.5 106.9 188.6 102.1 177 98.9 165.3 98 159.3 97.4 153.4 97.2 147 97.5 141 99.2 129.1 102.5 117.3 107.5 105.6 114.1 94.1 122 83.3 131.5 72.8 142.2 63 154.6 53.6 168 45 183.2 37 198.9 30.1 215.8 24.1 232.9 19.2 252.6 15.1 272.4 12.3 281.2 11.5 289 11.2 295.1 11.5 300 12.3 M244.1 274.5 222.6 271.3 201.6 267.1 181.1 261.8 162 255.6 144.3 248.6 127.1 240.3 111.3 231.3 97.6 221.8 85.4 211.5 80.3 206.4 75.2 200.8 70.7 195.2 66.7 189.5 63.1 183.7 60.1 177.9 57.6 172 55.6 166.1 54.1 160.2 53 153.8 52.5 147.8 52.5 141.4 53 135.5 54 129.5 55.7 123.1 57.7 117.2 60.4 110.9 63.5 105 67.1 99.2 71.2 93.5 75.8 87.8 80.9 82.3 92.2 71.7 105.6 61.6 120.4 52.2 137.5 43.3 156.1 35.3 176.3 28.2 197.3 22.2 218.9 17.5 232.5 15.1 246.1 13.2 259.8 11.6 273.4 10.6 285.9 10 293.1 9.9 297.1 10.6 300 12.3 M355.9 274.5 377.4 271.3 398.4 267.1 418.9 261.8 438 255.6 455.7 248.6 472.9 240.3 488.7 231.3 502.4 221.8 514.6 211.5 519.7 206.4 524.8 200.8 529.3 195.2 533.3 189.5 536.9 183.7 539.9 177.9 542.4 172 544.4 166.1 545.9 160.2 547 153.8 547.5 147.4 547.5 141.4 547 135.5 546 129.5 544.3 123.1 542.3 117.2 539.6 110.9 536.5 105 532.9 99.2 528.8 93.5 524.2 87.8 519.1 82.3 507.8 71.7 494.4 61.6 479.6 52.2 462.5 43.3 443.9 35.3 423.7 28.2 402.7 22.2 381.1 17.5 367.5 15.1 353.9 13.2 340.2 11.6 326.6 10.6 314.1 10 306.9 9.9 302.9 10.6 300 12.3 M355.9 274.5 374 270.6 389.9 266.2 405.2 260.9 420.4 254.4 434.7 247 447.3 239.1 459.4 230 469.9 220.5 479.2 210.2 487 199.5 493.1 188.6 497.9 177 501.1 165.3 502 159.3 502.6 153.4 502.8 147 502.5 141 500.8 129.1 497.5 117.3 492.5 105.6 485.9 94.1 478 83.3 468.5 72.8 457.8 63 445.4 53.6 432 45 416.8 37 401.1 30.1 384.2 24.1 367.1 19.2 347.4 15.1 327.6 12.3 318.8 11.5 311 11.2 304.9 11.5 300 12.3 M355.8 274.5 355 274.1 356 273.5 372.6 267.3 384.9 261.7 395.1 256 404.5 249.8 413.9 242.5 422.6 234.4 430.6 225.5 437.6 216.2 443.7 206.2 448.9 195.5 452.9 184.5 455.7 173.3 457.3 162 457.9 150.6 457.2 138.7 455.3 127.3 452.2 115.5 448 104.3 442.6 93.3 436.3 83 428.9 72.9 420.6 63.5 411.2 54.5 401.1 46.3 389.6 38.6 378 32 365.7 26.2 352.7 21.2 338.9 17.1 324.4 14 310.9 12.4 300 12.3 M355.8 274.5 346.7 274.5 345.1 274.2 345 273.6 346.5 272.4 358 265.6 365.8 260.1 374 252.9 381.3 245.1 388.3 236 394.6 226.1 400 215.6 404.5 204.3 407.6 194.4 409.9 184.2 411.6 174 412.5 163.6 412.8 153.1 412.3 142.1 411.2 131.6 409.3 121.1 406.6 110.3 403.2 99.6 399.1 89.6 394.3 79.7 389.1 70.6 383 61.7 376.6 53.5 369.3 45.7 361.7 38.7 353.6 32.4 345.1 26.9 336.7 22.3 327.2 18.3 318 15.3 309.1 13.3 300 12.3 M355.8 274.5 333.4 275.6 329.2 275.4 328.1 275 327.9 274.5 328.7 273.3 336.1 265.7 340.5 260.4 345.3 253.2 349.6 245.3 353.8 236.2 357.4 226.2 360.6 215.3 363.2 203.9 365.3 191.8 366.7 179.4 367.5 166.8 367.7 153.6 367.2 140.7 366.1 127.9 364.4 115.2 362.1 102.6 357.5 84.7 351.8 68.4 348.5 60.7 345.1 53.7 341.3 47 337.4 40.9 333.3 35.4 328.9 30.2 324.3 25.6 319.6 21.7 314.7 18.3 310 15.8 305.2 13.8 300 12.3 M355.8 274.5 338.5 275.9 321.7 276.7 311.3 276.9 309.7 276.7 309 276.1 312.9 263.7 315.6 251.8 318 236.5 320 218.4 321.5 198.1 322.3 176.4 322.5 154.1 322.1 131.2 321 108.9 319.3 87.7 317.1 68.3 314.3 50.9 311.2 36.5 307.8 25.3 305.9 20.8 304 17.1 302 14.3 300 12.3 M244.2 274.5 261.5 275.9 278.3 276.7 288.7 276.9 290.3 276.7 291 276.1 287.1 263.7 284.4 251.8 282 236.5 280 218.4 278.5 198.1 277.7 176.4 277.5 154.1 277.9 131.2 279 108.9 280.7 87.7 282.9 68.3 285.7 50.9 288.8 36.5 292.2 25.3 294.1 20.8 296 17.1 298 14.3 300 12.3 M244.2 274.5 266.6 275.6 270.8 275.4 271.9 275 272.1 274.5 271.3 273.3 263.9 265.7 259.5 260.4 254.7 253.2 250.4 245.3 246.2 236.2 242.6 226.2 239.4 215.3 236.8 203.9 234.7 191.8 233.3 179.4 232.5 166.8 232.3 153.6 232.8 140.7 233.9 127.9 235.6 115.2 237.9 102.6 242.5 84.7 248.2 68.4 251.5 60.7 254.9 53.7 258.7 47 262.6 40.9 266.7 35.4 271.1 30.2 275.7 25.6 280.4 21.7 285.3 18.3 290 15.8 294.8 13.8 300 12.3 M244.2 274.5 253.3 274.5 254.9 274.2 255 273.6 253.5 272.4 242 265.6 234.2 260.1 226 252.9 218.7 245.1 211.7 236 205.4 226.1 200 215.6 195.5 204.3 192.4 194.4 190.1 184.2 188.4 174 187.5 163.6 187.2 152.6 187.7 142.1 188.8 131.6 190.7 121.1 193.4 110.3 196.8 99.6 200.9 89.6 205.7 79.7 210.9 70.6 217 61.7 223.4 53.5 230.7 45.7 238.3 38.7 246.4 32.4 254.9 26.9 263.3 22.3 272.8 18.3 282 15.3 290.9 13.3 300 12.3 M187 243.2 164 241 144.1 239.5 126.1 238.6 109.3 238.3 M490.4 238.3 469.2 238.8 445.6 240.2 419.1 242.6 347.6 250.1 326.4 251.7 307.2 252.4 285 252.2 261.2 250.9 236.2 248.6 187 243.2 M151 195.1 120.3 192.2 93.8 190.3 69.5 189.1 45.9 188.8 M553.7 188.8 525.4 189.3 494.9 191 461.9 193.8 396 200.6 368.3 203.1 338.6 205.1 311.2 206.1 279.3 205.8 245.9 204.2 211.1 201.3 151 195.1 M142.6 141 109.8 137.9 82.3 135.8 56.1 134.6 30.6 134.2 M569 134.2 538.6 134.8 507.3 136.5 473.8 139.4 405.5 146.5 375.5 149.3 343.2 151.4 312.8 152.5 277.8 152.3 241.4 150.5 203.5 147.4 142.6 141 M160.9 87.2 131.8 84.2 107.6 82.2 84.5 81 61.4 80.7 M538.2 80.7 511.4 81.2 484.2 82.8 455.9 85.4 396.8 92.1 369.7 94.8 340.4 96.9 312.5 97.9 280.1 97.8 246.9 96.1 212.7 93.1 160.9 87.2 M208.2 39.9 189.1 37.2 173.9 35.6 158.8 34.7 143.1 34.3 M456.6 34.3 439.4 34.7 422.7 35.9 406.5 37.8 369.2 43.3 350.5 45.6 329.8 47.5 309.7 48.4 286.4 48.3 263 47 239.3 44.4 208.2 39.9"/>
</g>
<g fill-opacity="0.75"><text x="53.1" y="133.7" font-size="16" fill="#d8d8d8" text-anchor="middle">60</text>
<text x="97.9" y="136.1" font-size="16" fill="#d8d8d8" text-anchor="middle">30</text>
<text x="142.6" y="140.2" font-size="16" fill="#d8d8d8" text-anchor="middle">0</text>
<text x="187.4" y="145" font-size="16" fill="#d8d8d8" text-anchor="middle">-30</text>
<text x="232.4" y="149.1" font-size="16" fill="#d8d8d8" text-anchor="middle">-60</text>
<text x="277.5" y="151.5" font-size="16" fill="#d8d8d8" text-anchor="middle">-90</text>
<text x="322.5" y="151.5" font-size="16" fill="#d8d8d8" text-anchor="middle">-120</text>
<text x="367.6" y="149.1" font-size="16" fill="#d8d8d8" text-anchor="middle">-150</text>
<text x="412.6" y="145" font-size="16" fill="#d8d8d8" text-anchor="middle">180</text>
<text x="457.4" y="140.2" font-size="16" fill="#d8d8d8" text-anchor="middle">150</text>
<text x="502.1" y="136.1" font-size="16" fill="#d8d8d8" text-anchor="middle">120</text>
<text x="546.9" y="133.7" font-size="16" fill="#d8d8d8" text-anchor="middle">90</text>
<text x="208.2" y="39.9" font-size="16" fill="#d8d8d8" text-anchor="middle">60</text>
<text x="160.9" y="87.2" font-size="16" fill="#d8d8d8" text-anchor="middle">30</text>
<text x="151" y="195.1" font-size="16" fill="#d8d8d8" text-anchor="middle">-30</text>
<text x="187" y="243.2" font-size="16" fill="#d8d8d8" text-anchor="middle">-60</text>
<text x="246" y="275" font-size="16" fill="#d8d8d8" text-anchor="middle">90</text></g>
<circle cx="30.5" cy="143.5" r="3.3" fill="#8a8a8a"/>
<text x="566.8" y="138" font-size="21.5" fill="#6e6e6e" text-anchor="start">Tail</text>
<circle cx="300.3" cy="143.3" r="3.3" fill="#dcd7d0"/>
<text x="296.2" y="138.2" font-size="21.6" fill="#ececec" text-anchor="start">Nose</text>
<circle cx="300.9" cy="89.3" r="3.3" fill="#dcd7d0"/>
<text x="297.5" y="84.3" font-size="21" fill="#ececec" text-anchor="start">V1</text>
<circle cx="253.3" cy="208" r="3.3" fill="#dcd7d0"/>
<text x="249.3" y="203.4" font-size="21.8" fill="#ececec" text-anchor="start">V2</text>
</g>
<text x="301" y="309.3" font-size="23" fill="#7a0a0a" text-anchor="middle" stroke="#7a0a0a" stroke-width="0.5">Density (cm<tspan font-size="14.5" dy="-12">-3</tspan><tspan dy="12">) 0.5-1.0 keV</tspan></text>
<text x="301" y="733.6" font-size="23" fill="#7a0a0a" text-anchor="middle" stroke="#7a0a0a" stroke-width="0.5">Density (cm<tspan font-size="14.5" dy="-12">-3</tspan><tspan dy="12">) 0.8-1.6 keV</tspan></text>
<rect x="30" y="343.5" width="540" height="18.2" fill="url(#jetg)" stroke="#000" stroke-opacity="0.3" stroke-width="0.8"/>
<line x1="110.5" x2="110.5" y1="343.5" y2="361.7" stroke="#000" stroke-opacity="0.25" stroke-width="1"/>
<text x="110.5" y="396.3" font-size="22.7" fill="#7a0a0a" stroke="#7a0a0a" stroke-width="0.25" text-anchor="middle">2e-05</text>
<line x1="190.5" x2="190.5" y1="343.5" y2="361.7" stroke="#000" stroke-opacity="0.25" stroke-width="1"/>
<text x="190.5" y="396.3" font-size="22.7" fill="#7a0a0a" stroke="#7a0a0a" stroke-width="0.25" text-anchor="middle">4e-05</text>
<line x1="270.5" x2="270.5" y1="343.5" y2="361.7" stroke="#000" stroke-opacity="0.25" stroke-width="1"/>
<text x="270.5" y="396.3" font-size="22.7" fill="#7a0a0a" stroke="#7a0a0a" stroke-width="0.25" text-anchor="middle">6e-05</text>
<line x1="350.5" x2="350.5" y1="343.5" y2="361.7" stroke="#000" stroke-opacity="0.25" stroke-width="1"/>
<text x="350.5" y="396.3" font-size="22.7" fill="#7a0a0a" stroke="#7a0a0a" stroke-width="0.25" text-anchor="middle">8e-05</text>
<line x1="430.5" x2="430.5" y1="343.5" y2="361.7" stroke="#000" stroke-opacity="0.25" stroke-width="1"/>
<text x="430.5" y="396.3" font-size="22.7" fill="#7a0a0a" stroke="#7a0a0a" stroke-width="0.25" text-anchor="middle">0.0001</text>
<line x1="510.5" x2="510.5" y1="343.5" y2="361.7" stroke="#000" stroke-opacity="0.25" stroke-width="1"/>
<text x="510.5" y="396.3" font-size="22.7" fill="#7a0a0a" stroke="#7a0a0a" stroke-width="0.25" text-anchor="middle">0.00012</text>
<rect x="30" y="767" width="540" height="18.2" fill="url(#jetg)" stroke="#000" stroke-opacity="0.3" stroke-width="0.8"/>
<line x1="144" x2="144" y1="767" y2="785.2" stroke="#000" stroke-opacity="0.25" stroke-width="1"/>
<text x="144" y="819.8" font-size="22.7" fill="#7a0a0a" stroke="#7a0a0a" stroke-width="0.25" text-anchor="middle">2e-05</text>
<line x1="257.5" x2="257.5" y1="767" y2="785.2" stroke="#000" stroke-opacity="0.25" stroke-width="1"/>
<text x="257.5" y="819.8" font-size="22.7" fill="#7a0a0a" stroke="#7a0a0a" stroke-width="0.25" text-anchor="middle">4e-05</text>
<line x1="371" x2="371" y1="767" y2="785.2" stroke="#000" stroke-opacity="0.25" stroke-width="1"/>
<text x="371" y="819.8" font-size="22.7" fill="#7a0a0a" stroke="#7a0a0a" stroke-width="0.25" text-anchor="middle">6e-05</text>
<line x1="485" x2="485" y1="767" y2="785.2" stroke="#000" stroke-opacity="0.25" stroke-width="1"/>
<text x="485" y="819.8" font-size="22.7" fill="#7a0a0a" stroke="#7a0a0a" stroke-width="0.25" text-anchor="middle">8e-05</text>
</svg></body></html>
